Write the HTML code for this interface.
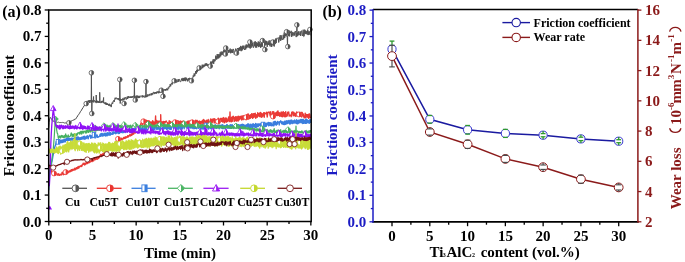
<!DOCTYPE html>
<html><head><meta charset="utf-8"><style>
html,body{margin:0;padding:0;background:#fff;width:685px;height:262px;overflow:hidden}
svg{display:block;filter:blur(0.45px)}
text{font-family:"Liberation Serif",serif}
</style></head><body><svg width="685" height="262" viewBox="0 0 685 262" font-family='"Liberation Serif", serif'><rect width="685" height="262" fill="#fff"/><g><path d="M48.70,128.3 L49.20,122.7 L49.70,118.3 L50.20,117.3 L50.70,117.7 L51.20,119.0 L51.70,119.3 L52.20,120.7 L52.70,121.0 L53.20,121.1 L53.70,121.4 L54.20,120.9 L54.70,121.7 L55.20,121.2 L55.70,121.3 L56.20,121.9 L56.70,122.1 L57.20,122.2 L57.70,122.5 L58.20,122.4 L58.70,122.1 L59.20,122.5 L59.70,122.6 L60.20,122.0 L60.70,122.7 L61.20,122.8 L61.70,122.3 L62.20,122.8 L62.70,122.4 L63.20,122.8 L63.70,122.3 L64.20,123.0 L64.70,123.1 L65.20,122.7 L65.70,123.1 L66.20,122.7 L66.70,123.3 L67.20,122.8 L67.70,122.3 L68.20,122.8 L68.70,122.0 L69.20,122.4 L69.70,121.6 L70.20,121.8 L70.70,121.3 L71.20,121.6 L71.70,120.6 L72.20,120.4 L72.70,120.9 L73.20,120.0 L73.70,119.8 L74.20,120.0 L74.70,119.2 L75.20,119.4 L75.70,118.6 L76.20,118.5 L76.70,117.2 L77.20,117.0 L77.70,115.7 L78.20,114.9 L78.70,114.7 L79.20,113.5 L79.70,113.3 L80.20,111.9 L80.70,111.2 L81.20,110.9 L81.70,109.4 L82.20,109.3 L82.70,107.9 L83.20,107.6 L83.70,106.2 L84.20,106.1 L84.70,105.0 L85.20,105.0 L85.70,104.0 L86.20,104.3 L86.70,101.7 L87.20,101.6 L87.70,102.6 L88.20,100.5 L88.70,102.0 L89.20,100.1 L89.70,103.0 L90.20,100.1 L90.70,101.0 L91.20,102.8 L91.40,72.8 L91.65,101.5 L91.70,100.4 L91.80,113.5 L92.05,101.5 L92.20,100.3 L92.70,102.1 L93.20,101.0 L93.60,96.5 L93.70,102.4 L93.85,101.7 L94.20,100.7 L94.70,100.2 L95.20,102.2 L95.70,101.0 L96.20,103.1 L96.20,95.0 L96.45,101.8 L96.70,100.6 L97.20,102.6 L97.70,100.8 L98.20,102.8 L98.70,101.2 L99.20,103.0 L99.70,101.1 L99.70,92.3 L99.95,101.8 L100.20,102.5 L100.70,103.1 L101.20,101.0 L101.70,102.8 L102.20,100.8 L102.70,102.4 L103.20,101.3 L103.60,97.5 L103.70,102.9 L103.85,102.1 L104.20,103.8 L104.70,103.6 L105.20,102.3 L105.70,104.5 L106.20,102.7 L106.70,105.0 L107.20,103.2 L107.70,105.0 L108.20,104.0 L108.70,105.7 L109.20,103.7 L109.70,105.9 L110.20,106.1 L110.70,104.6 L111.20,107.1 L111.70,104.1 L112.20,102.6 L112.70,103.8 L113.20,101.0 L113.70,100.4 L114.20,102.0 L114.70,99.2 L115.20,97.7 L115.70,99.3 L116.20,97.7 L116.70,98.0 L117.20,99.2 L117.70,98.3 L118.20,99.9 L118.70,98.2 L119.20,100.5 L119.70,100.5 L119.80,79.5 L120.05,99.3 L120.20,98.7 L120.20,103.5 L120.45,99.4 L120.70,100.9 L121.20,100.4 L121.70,99.1 L122.20,100.6 L122.70,98.4 L123.20,98.5 L123.70,100.4 L124.20,97.6 L124.70,99.5 L125.20,97.6 L125.70,97.1 L126.20,99.5 L126.70,99.2 L127.20,96.7 L127.70,99.0 L128.20,96.0 L128.70,97.9 L129.20,96.7 L129.70,97.8 L130.20,96.4 L130.70,98.0 L131.20,96.5 L131.70,98.0 L132.20,96.1 L132.70,97.6 L133.20,96.1 L133.70,95.8 L134.20,98.1 L134.40,80.3 L134.65,97.0 L134.70,98.4 L135.20,96.4 L135.70,97.8 L136.20,95.6 L136.70,98.3 L137.20,95.5 L137.70,97.7 L138.20,95.9 L138.70,98.1 L139.20,95.8 L139.70,97.9 L140.20,95.9 L140.70,96.1 L141.20,95.8 L141.70,95.9 L142.20,97.4 L142.70,95.3 L143.20,97.2 L143.70,95.8 L144.20,97.3 L144.70,97.3 L145.20,95.3 L145.70,97.4 L146.00,81.6 L146.20,94.8 L146.25,96.0 L146.70,97.1 L147.20,94.5 L147.70,96.6 L148.20,94.4 L148.70,95.7 L149.20,95.9 L149.70,93.9 L150.20,95.1 L150.70,95.2 L151.20,93.2 L151.70,95.3 L152.20,93.2 L152.70,94.6 L153.20,92.3 L153.70,92.0 L154.20,94.1 L154.70,92.3 L155.20,93.5 L155.70,92.0 L156.20,93.8 L156.70,91.7 L157.20,92.7 L157.70,91.4 L158.20,93.3 L158.70,91.3 L159.20,93.1 L159.70,90.4 L160.20,90.6 L160.70,92.6 L161.20,90.5 L161.70,92.1 L162.20,89.8 L162.70,89.7 L163.00,96.3 L163.20,90.0 L163.25,90.6 L163.70,91.0 L164.20,89.1 L164.70,89.7 L165.20,90.8 L165.70,89.0 L166.20,90.4 L166.70,88.5 L167.20,88.6 L167.70,90.3 L168.20,87.5 L168.70,88.5 L169.20,86.4 L169.70,87.1 L170.20,84.1 L170.70,86.3 L171.20,83.8 L171.70,82.8 L172.20,84.5 L172.70,81.8 L173.20,82.5 L173.70,80.5 L174.20,82.3 L174.70,82.7 L175.20,80.6 L175.70,80.4 L176.20,82.5 L176.70,79.8 L177.20,82.2 L177.70,81.3 L178.20,79.0 L178.70,81.8 L179.20,79.6 L179.70,79.3 L180.20,81.7 L180.70,81.8 L181.20,80.9 L181.70,78.5 L182.20,78.1 L182.70,81.1 L183.20,78.0 L183.70,81.1 L184.20,77.8 L184.70,80.7 L185.20,77.5 L185.70,81.2 L186.20,77.7 L186.70,80.1 L187.20,78.7 L187.70,81.4 L188.20,80.6 L188.70,78.1 L189.20,80.4 L189.70,77.9 L190.20,78.3 L190.70,78.6 L191.20,81.6 L191.70,80.3 L192.20,77.8 L192.70,78.9 L193.20,75.5 L193.70,76.8 L194.20,73.4 L194.70,76.2 L195.20,74.5 L195.70,71.1 L196.20,73.8 L196.70,69.8 L197.20,72.2 L197.70,69.0 L198.20,70.8 L198.70,67.6 L199.20,68.9 L199.70,66.7 L200.20,69.1 L200.70,68.4 L201.20,68.1 L201.70,68.5 L202.20,64.7 L202.70,68.2 L203.20,64.8 L203.70,67.2 L204.20,64.7 L204.70,66.5 L205.20,63.6 L205.70,65.9 L206.20,63.2 L206.70,65.7 L207.20,63.8 L207.70,66.2 L208.20,66.1 L208.70,64.1 L209.20,65.6 L209.70,66.4 L210.20,67.1 L210.70,61.6 L211.20,65.4 L211.70,61.6 L212.20,63.5 L212.70,60.8 L213.20,59.3 L213.70,63.9 L214.20,59.2 L214.70,61.5 L215.20,61.1 L215.70,55.7 L216.20,56.0 L216.70,59.6 L217.20,54.1 L217.70,58.6 L218.20,54.2 L218.70,58.4 L219.20,54.3 L219.70,57.5 L220.20,52.3 L220.70,56.4 L221.20,51.5 L221.70,55.1 L222.20,54.6 L222.70,51.6 L223.20,55.1 L223.70,49.8 L224.20,50.2 L224.70,52.3 L225.20,47.7 L225.40,54.0 L225.65,50.6 L225.70,49.0 L226.20,52.7 L226.70,52.2 L227.20,49.2 L227.70,49.5 L228.20,52.9 L228.70,49.9 L229.20,52.6 L229.70,49.8 L230.20,48.6 L230.70,53.3 L231.20,49.4 L231.70,52.7 L232.20,49.6 L232.70,53.0 L233.20,48.9 L233.70,50.5 L234.20,54.3 L234.70,53.1 L235.20,50.3 L235.70,48.6 L236.20,54.1 L236.70,49.4 L237.20,48.9 L237.70,48.0 L238.20,52.6 L238.70,47.9 L239.20,50.7 L239.70,47.3 L240.20,50.5 L240.70,45.9 L241.20,51.2 L241.70,46.6 L242.20,50.4 L242.70,45.7 L243.20,49.2 L243.70,45.7 L244.20,48.6 L244.70,50.0 L245.20,45.6 L245.70,49.5 L246.20,44.5 L246.70,48.2 L247.20,44.6 L247.70,47.2 L248.20,47.3 L248.70,43.0 L249.20,47.9 L249.70,44.1 L250.20,48.6 L250.70,43.5 L251.20,47.7 L251.70,41.7 L252.20,46.3 L252.70,42.9 L253.20,47.7 L253.70,47.4 L254.20,41.9 L254.70,46.2 L255.20,41.2 L255.70,47.6 L256.20,42.1 L256.70,47.6 L257.20,43.1 L257.70,46.1 L258.20,41.5 L258.70,47.1 L259.20,41.7 L259.70,46.5 L260.20,43.7 L260.70,47.8 L261.20,41.2 L261.70,46.9 L262.20,42.1 L262.70,46.7 L263.20,46.7 L263.70,47.3 L264.20,47.4 L264.50,50.0 L264.70,41.7 L264.75,43.9 L265.20,45.4 L265.70,40.6 L266.20,44.7 L266.70,41.1 L267.20,46.9 L267.70,42.3 L268.20,41.4 L268.70,45.0 L269.20,40.3 L269.70,45.8 L270.20,46.5 L270.70,42.8 L271.20,40.3 L271.70,47.0 L272.20,42.2 L272.70,42.3 L273.20,45.7 L273.70,40.0 L274.20,46.5 L274.70,39.9 L275.20,44.1 L275.70,38.5 L276.20,43.1 L276.70,38.3 L277.20,38.7 L277.70,38.1 L278.20,37.5 L278.70,42.5 L279.20,40.7 L279.70,36.6 L280.20,35.2 L280.70,40.9 L281.20,35.3 L281.70,39.6 L282.20,38.9 L282.70,39.8 L283.20,34.8 L283.70,39.3 L284.20,32.5 L284.70,38.0 L285.20,33.5 L285.70,36.2 L286.20,32.3 L286.70,35.9 L287.20,37.3 L287.50,46.6 L287.70,35.6 L287.75,34.0 L288.20,31.2 L288.70,36.1 L289.20,30.5 L289.70,36.4 L290.20,31.8 L290.70,32.9 L291.20,30.8 L291.70,37.0 L292.20,31.9 L292.70,35.6 L293.20,35.9 L293.70,32.6 L294.20,32.1 L294.70,35.6 L295.20,31.0 L295.70,32.2 L296.20,37.1 L296.70,32.4 L296.90,24.9 L297.15,33.7 L297.20,36.3 L297.70,32.4 L298.20,35.4 L298.70,31.3 L299.20,35.0 L299.70,34.8 L300.20,31.4 L300.70,36.0 L301.20,31.1 L301.70,30.7 L302.20,35.0 L302.70,36.0 L303.20,29.7 L303.70,36.6 L304.20,36.2 L304.70,29.6 L305.20,34.1 L305.70,30.5 L306.20,34.0 L306.70,31.2 L307.20,34.6 L307.70,29.7 L308.20,35.1 L308.70,30.5 L309.20,34.7 L309.70,29.1 L310.20,34.7 L310.70,35.1" fill="none" stroke="#505050" stroke-width="1.0" stroke-linejoin="round"/><circle cx="68.9" cy="122.8" r="2.3" fill="#fff" stroke="#505050" stroke-width="0.8"/><path d="M68.9,120.5 A2.3,2.3 0 0 1 68.9,125.1 Z" fill="#505050"/><circle cx="86.2" cy="103.6" r="2.3" fill="#fff" stroke="#505050" stroke-width="0.8"/><path d="M86.2,101.3 A2.3,2.3 0 0 1 86.2,105.9 Z" fill="#505050"/><circle cx="91.4" cy="72.8" r="2.3" fill="#fff" stroke="#505050" stroke-width="0.8"/><path d="M91.4,70.5 A2.3,2.3 0 0 1 91.4,75.1 Z" fill="#505050"/><circle cx="91.8" cy="113.5" r="2.3" fill="#fff" stroke="#505050" stroke-width="0.8"/><path d="M91.8,111.2 A2.3,2.3 0 0 1 91.8,115.8 Z" fill="#505050"/><circle cx="119.8" cy="79.5" r="2.3" fill="#fff" stroke="#505050" stroke-width="0.8"/><path d="M119.8,77.2 A2.3,2.3 0 0 1 119.8,81.8 Z" fill="#505050"/><circle cx="124.1" cy="103.5" r="2.3" fill="#fff" stroke="#505050" stroke-width="0.8"/><path d="M124.1,101.2 A2.3,2.3 0 0 1 124.1,105.8 Z" fill="#505050"/><circle cx="134.4" cy="80.3" r="2.3" fill="#fff" stroke="#505050" stroke-width="0.8"/><path d="M134.4,78.0 A2.3,2.3 0 0 1 134.4,82.6 Z" fill="#505050"/><circle cx="135.3" cy="100.0" r="2.3" fill="#fff" stroke="#505050" stroke-width="0.8"/><path d="M135.3,97.7 A2.3,2.3 0 0 1 135.3,102.3 Z" fill="#505050"/><circle cx="146.0" cy="81.6" r="2.3" fill="#fff" stroke="#505050" stroke-width="0.8"/><path d="M146.0,79.3 A2.3,2.3 0 0 1 146.0,83.9 Z" fill="#505050"/><circle cx="161.3" cy="90.2" r="2.3" fill="#fff" stroke="#505050" stroke-width="0.8"/><path d="M161.3,87.9 A2.3,2.3 0 0 1 161.3,92.5 Z" fill="#505050"/><circle cx="163.0" cy="96.3" r="2.3" fill="#fff" stroke="#505050" stroke-width="0.8"/><path d="M163.0,94.0 A2.3,2.3 0 0 1 163.0,98.6 Z" fill="#505050"/><circle cx="174.2" cy="80.8" r="2.3" fill="#fff" stroke="#505050" stroke-width="0.8"/><path d="M174.2,78.5 A2.3,2.3 0 0 1 174.2,83.1 Z" fill="#505050"/><circle cx="191.4" cy="80.8" r="2.3" fill="#fff" stroke="#505050" stroke-width="0.8"/><path d="M191.4,78.5 A2.3,2.3 0 0 1 191.4,83.1 Z" fill="#505050"/><circle cx="199.2" cy="67.9" r="2.3" fill="#fff" stroke="#505050" stroke-width="0.8"/><path d="M199.2,65.6 A2.3,2.3 0 0 1 199.2,70.2 Z" fill="#505050"/><circle cx="210.3" cy="66.1" r="2.3" fill="#fff" stroke="#505050" stroke-width="0.8"/><path d="M210.3,63.8 A2.3,2.3 0 0 1 210.3,68.4 Z" fill="#505050"/><circle cx="225.8" cy="48.0" r="2.3" fill="#fff" stroke="#505050" stroke-width="0.8"/><path d="M225.8,45.7 A2.3,2.3 0 0 1 225.8,50.3 Z" fill="#505050"/><circle cx="225.4" cy="54.0" r="2.3" fill="#fff" stroke="#505050" stroke-width="0.8"/><path d="M225.4,51.7 A2.3,2.3 0 0 1 225.4,56.3 Z" fill="#505050"/><circle cx="236.5" cy="53.1" r="2.3" fill="#fff" stroke="#505050" stroke-width="0.8"/><path d="M236.5,50.8 A2.3,2.3 0 0 1 236.5,55.4 Z" fill="#505050"/><circle cx="249.9" cy="42.0" r="2.3" fill="#fff" stroke="#505050" stroke-width="0.8"/><path d="M249.9,39.7 A2.3,2.3 0 0 1 249.9,44.3 Z" fill="#505050"/><circle cx="262.4" cy="40.6" r="2.3" fill="#fff" stroke="#505050" stroke-width="0.8"/><path d="M262.4,38.3 A2.3,2.3 0 0 1 262.4,42.9 Z" fill="#505050"/><circle cx="264.9" cy="49.6" r="2.3" fill="#fff" stroke="#505050" stroke-width="0.8"/><path d="M264.9,47.3 A2.3,2.3 0 0 1 264.9,51.9 Z" fill="#505050"/><circle cx="272.9" cy="42.0" r="2.3" fill="#fff" stroke="#505050" stroke-width="0.8"/><path d="M272.9,39.7 A2.3,2.3 0 0 1 272.9,44.3 Z" fill="#505050"/><circle cx="286.6" cy="31.7" r="2.3" fill="#fff" stroke="#505050" stroke-width="0.8"/><path d="M286.6,29.4 A2.3,2.3 0 0 1 286.6,34.0 Z" fill="#505050"/><circle cx="287.8" cy="46.6" r="2.3" fill="#fff" stroke="#505050" stroke-width="0.8"/><path d="M287.8,44.3 A2.3,2.3 0 0 1 287.8,48.9 Z" fill="#505050"/><circle cx="296.9" cy="24.9" r="2.3" fill="#fff" stroke="#505050" stroke-width="0.8"/><path d="M296.9,22.6 A2.3,2.3 0 0 1 296.9,27.2 Z" fill="#505050"/><circle cx="310.0" cy="29.5" r="2.3" fill="#fff" stroke="#505050" stroke-width="0.8"/><path d="M310.0,27.2 A2.3,2.3 0 0 1 310.0,31.8 Z" fill="#505050"/><path d="M48.70,166.2 L49.20,166.2 L49.70,168.5 L50.20,168.8 L50.70,171.2 L51.20,170.3 L51.70,173.1 L52.20,172.5 L52.70,174.0 L53.20,172.9 L53.70,174.6 L54.20,174.3 L54.70,174.9 L55.20,173.8 L55.70,174.7 L56.20,174.2 L56.70,173.6 L57.20,175.1 L57.70,174.2 L58.20,175.1 L58.70,173.7 L59.20,175.2 L59.70,175.3 L60.20,174.9 L60.70,174.2 L61.20,174.9 L61.70,173.7 L62.20,172.2 L62.70,173.5 L63.20,174.8 L63.70,173.3 L64.20,174.3 L64.70,172.9 L65.20,174.2 L65.70,173.2 L66.20,173.8 L66.70,173.7 L67.20,172.0 L67.70,172.0 L68.20,172.6 L68.70,171.5 L69.20,170.9 L69.70,171.9 L70.20,170.6 L70.70,171.5 L71.20,169.7 L71.70,170.9 L72.20,169.5 L72.70,170.5 L73.20,169.3 L73.70,169.9 L74.20,170.1 L74.70,168.3 L75.20,169.8 L75.70,169.4 L76.20,167.7 L76.70,168.8 L77.20,167.4 L77.70,168.6 L78.20,166.4 L78.70,168.0 L79.20,167.3 L79.70,166.3 L80.20,166.0 L80.70,166.5 L81.20,165.5 L81.70,166.5 L82.20,165.0 L82.70,164.8 L83.20,163.1 L83.70,164.3 L84.20,163.6 L84.70,165.0 L85.20,162.9 L85.70,164.2 L86.20,163.7 L86.70,162.3 L87.20,163.4 L87.70,163.6 L88.20,161.8 L88.70,161.4 L89.20,162.7 L89.70,161.3 L90.20,162.1 L90.70,160.8 L91.20,161.5 L91.70,160.2 L92.20,161.6 L92.70,160.1 L93.20,159.7 L93.70,160.9 L94.20,159.4 L94.70,158.5 L95.20,159.7 L95.70,159.4 L96.20,158.2 L96.70,157.6 L97.20,159.2 L97.70,159.0 L98.20,157.4 L98.70,158.3 L99.20,156.3 L99.70,157.0 L100.20,155.5 L100.70,154.4 L101.20,155.1 L101.70,155.8 L102.20,154.1 L102.70,154.9 L103.20,153.1 L103.70,154.6 L104.20,154.1 L104.70,152.0 L105.20,152.1 L105.70,152.8 L106.20,151.1 L106.70,152.3 L107.20,150.1 L107.70,151.0 L108.20,149.4 L108.70,150.1 L109.20,148.4 L109.70,149.3 L110.20,147.7 L110.70,146.6 L111.20,147.6 L111.70,145.6 L112.20,146.5 L112.70,145.1 L113.20,145.6 L113.70,143.8 L114.20,144.6 L114.70,143.3 L115.20,143.6 L115.70,142.0 L116.20,142.9 L116.70,139.7 L117.20,142.0 L117.70,140.3 L118.20,139.5 L118.70,141.0 L119.20,139.1 L119.70,140.5 L120.20,140.1 L120.70,138.7 L121.20,139.9 L121.70,138.1 L122.20,139.4 L122.70,139.1 L123.20,138.8 L123.70,137.5 L124.20,138.4 L124.70,137.2 L125.20,138.4 L125.70,136.8 L126.20,137.8 L126.70,136.7 L127.20,137.3 L127.70,135.7 L128.20,137.1 L128.70,135.7 L129.20,136.1 L129.70,134.7 L130.20,134.9 L130.70,135.9 L131.20,134.1 L131.70,135.3 L132.20,133.5 L132.70,134.6 L133.20,132.9 L133.70,134.1 L134.20,132.3 L134.70,131.9 L135.20,133.0 L135.70,131.2 L136.20,130.2 L136.70,129.8 L137.20,130.5 L137.70,128.2 L138.20,129.4 L138.70,126.9 L139.20,128.2 L139.70,126.2 L140.20,126.8 L140.70,124.0 L141.20,123.0 L141.70,121.5 L142.20,124.4 L142.70,124.6 L143.20,123.4 L143.70,121.7 L144.20,120.4 L144.70,124.5 L145.20,120.4 L145.70,124.1 L146.20,120.3 L146.70,124.5 L147.20,120.6 L147.70,125.2 L148.20,120.7 L148.70,125.0 L149.20,120.9 L149.70,124.8 L150.20,122.0 L150.70,124.5 L151.20,122.0 L151.70,125.3 L152.20,124.5 L152.70,120.6 L153.20,125.5 L153.70,122.0 L154.20,125.5 L154.70,122.0 L155.20,124.2 L155.60,116.0 L155.70,122.0 L155.85,123.1 L156.20,120.2 L156.70,120.7 L157.20,123.9 L157.70,121.3 L158.20,125.1 L158.70,121.2 L159.20,121.6 L159.70,121.2 L160.20,125.1 L160.70,121.1 L160.70,114.7 L160.95,123.2 L161.20,124.9 L161.70,125.3 L162.20,121.8 L162.70,122.1 L163.20,125.3 L163.70,121.4 L164.20,124.3 L164.70,121.7 L165.20,124.6 L165.70,121.5 L166.20,121.0 L166.70,125.0 L167.20,124.2 L167.70,125.8 L168.20,124.6 L168.70,125.1 L169.20,120.8 L169.70,125.8 L170.20,121.4 L170.70,124.6 L171.20,122.1 L171.70,122.3 L172.20,124.4 L172.70,121.7 L173.20,125.1 L173.70,125.5 L174.20,122.6 L174.70,125.4 L175.20,121.5 L175.70,122.2 L176.20,125.1 L176.70,125.9 L177.20,120.8 L177.70,121.4 L178.20,125.4 L178.70,121.0 L179.20,121.8 L179.70,126.0 L180.20,121.4 L180.70,121.1 L181.20,125.9 L181.70,122.1 L182.20,121.6 L182.70,122.4 L183.20,121.0 L183.70,125.4 L184.20,122.4 L184.70,125.2 L185.20,122.2 L185.70,124.6 L186.20,122.2 L186.70,125.0 L187.20,121.5 L187.70,125.1 L188.20,121.0 L188.70,124.4 L189.20,121.3 L189.70,121.2 L190.20,120.8 L190.70,124.5 L191.20,120.7 L191.70,123.9 L192.20,120.7 L192.70,120.5 L193.20,124.9 L193.70,121.9 L194.20,125.5 L194.70,121.0 L195.20,124.8 L195.70,120.2 L196.20,123.6 L196.70,120.7 L197.20,120.4 L197.70,125.2 L198.20,121.7 L198.70,123.9 L199.20,120.9 L199.70,123.7 L200.20,121.6 L200.70,124.2 L201.20,121.3 L201.70,123.1 L202.20,123.1 L202.70,120.2 L203.20,124.1 L203.70,119.5 L204.20,120.3 L204.70,121.2 L205.20,124.2 L205.70,121.0 L206.20,122.8 L206.70,120.3 L207.20,123.9 L207.70,123.7 L208.20,119.5 L208.70,124.3 L209.20,122.8 L209.70,122.5 L210.20,120.5 L210.70,119.0 L211.20,122.6 L211.70,119.4 L212.20,122.6 L212.70,119.4 L213.20,118.8 L213.70,119.8 L214.20,122.9 L214.70,118.6 L215.20,122.7 L215.70,120.0 L216.20,122.6 L216.70,119.8 L217.20,122.9 L217.70,119.8 L218.20,118.2 L218.70,119.0 L219.20,122.5 L219.70,121.6 L220.20,118.6 L220.70,118.4 L221.20,118.7 L221.70,121.3 L222.20,118.1 L222.70,122.0 L223.20,118.4 L223.70,117.6 L224.20,122.8 L224.70,122.1 L225.20,118.5 L225.70,118.0 L226.20,122.2 L226.70,118.2 L227.20,121.0 L227.70,121.6 L228.20,120.9 L228.70,116.9 L229.20,116.9 L229.70,121.6 L230.00,112.0 L230.20,118.1 L230.25,119.5 L230.70,118.1 L231.20,121.8 L231.70,117.3 L232.20,121.3 L232.70,116.8 L233.20,116.3 L233.70,117.1 L234.20,121.4 L234.70,117.4 L235.20,120.7 L235.70,116.6 L236.20,117.5 L236.70,121.1 L237.20,116.5 L237.70,120.3 L238.20,120.9 L238.70,116.2 L239.20,119.8 L239.70,118.9 L240.20,116.5 L240.70,118.9 L241.20,116.1 L241.70,120.0 L242.20,115.9 L242.70,116.3 L243.20,119.6 L243.70,115.8 L244.20,116.2 L244.70,118.5 L245.20,115.8 L245.70,115.8 L246.20,119.6 L246.70,114.7 L247.20,118.7 L247.70,114.3 L248.20,113.9 L248.70,119.1 L249.20,118.0 L249.70,115.1 L250.20,118.4 L250.70,114.8 L251.20,117.5 L251.70,113.6 L252.20,114.4 L252.70,118.4 L253.20,113.7 L253.70,117.3 L254.20,113.8 L254.70,116.8 L255.20,113.1 L255.70,118.3 L256.20,114.6 L256.70,116.7 L257.20,117.3 L257.70,112.8 L258.20,114.3 L258.70,116.1 L259.20,113.5 L259.70,116.6 L260.20,112.5 L260.70,112.6 L261.20,117.3 L261.70,113.5 L262.20,116.9 L262.70,113.9 L263.20,115.7 L263.70,112.8 L264.20,117.2 L264.70,112.7 L265.20,113.2 L265.70,113.6 L266.20,113.8 L266.70,112.2 L267.20,117.0 L267.70,113.6 L268.20,112.2 L268.70,112.1 L269.20,112.0 L269.70,113.1 L270.20,116.0 L270.70,111.8 L271.20,117.0 L271.70,116.2 L272.20,115.4 L272.70,111.7 L273.20,116.2 L273.70,111.8 L274.20,115.5 L274.70,116.1 L275.20,112.9 L275.70,115.9 L276.20,112.7 L276.70,115.3 L277.20,111.5 L277.70,115.6 L278.00,111.0 L278.20,112.8 L278.25,114.1 L278.70,115.2 L279.20,112.7 L279.70,116.2 L280.20,113.1 L280.70,116.0 L281.20,112.0 L281.70,116.5 L282.20,112.5 L282.70,116.7 L283.20,111.6 L283.70,112.7 L284.20,116.5 L284.70,112.7 L285.20,116.8 L285.70,111.6 L286.20,116.5 L286.70,115.7 L287.20,116.0 L287.70,112.3 L288.20,113.1 L288.70,112.0 L289.20,116.1 L289.70,115.2 L290.20,115.2 L290.70,115.3 L291.20,116.7 L291.70,112.3 L292.20,112.3 L292.70,111.9 L293.20,115.9 L293.70,112.3 L294.20,115.2 L294.70,113.1 L295.20,116.2 L295.70,113.5 L296.20,116.1 L296.70,112.0 L297.20,112.5 L297.70,115.6 L298.20,112.8 L298.70,115.7 L299.20,113.3 L299.70,113.1 L300.20,116.2 L300.70,113.4 L301.20,112.3 L301.70,117.0 L302.20,112.4 L302.70,115.8 L303.20,113.9 L303.70,117.1 L304.20,116.2 L304.70,117.9 L305.20,113.3 L305.70,117.9 L306.20,114.4 L306.70,116.9 L307.20,114.6 L307.70,117.2 L308.20,114.5 L308.70,118.3 L309.20,113.9 L309.70,114.2 L310.20,117.3 L310.70,118.1" fill="none" stroke="#ea3a36" stroke-width="1.4" stroke-linejoin="round"/><circle cx="54.0" cy="173.4" r="2.5" fill="#fff" stroke="#ea3a36" stroke-width="0.8"/><path d="M54.0,170.9 A2.5,2.5 0 0 1 54.0,175.9 Z" fill="#ea3a36"/><circle cx="65.6" cy="172.1" r="2.5" fill="#fff" stroke="#ea3a36" stroke-width="0.8"/><path d="M65.6,169.6 A2.5,2.5 0 0 1 65.6,174.6 Z" fill="#ea3a36"/><circle cx="118.0" cy="138.9" r="2.5" fill="#fff" stroke="#ea3a36" stroke-width="0.8"/><path d="M118.0,136.4 A2.5,2.5 0 0 1 118.0,141.4 Z" fill="#ea3a36"/><circle cx="143.4" cy="121.3" r="2.5" fill="#fff" stroke="#ea3a36" stroke-width="0.8"/><path d="M143.4,118.8 A2.5,2.5 0 0 1 143.4,123.8 Z" fill="#ea3a36"/><circle cx="166.8" cy="124.6" r="2.5" fill="#fff" stroke="#ea3a36" stroke-width="0.8"/><path d="M166.8,122.1 A2.5,2.5 0 0 1 166.8,127.1 Z" fill="#ea3a36"/><circle cx="175.0" cy="122.2" r="2.5" fill="#fff" stroke="#ea3a36" stroke-width="0.8"/><path d="M175.0,119.7 A2.5,2.5 0 0 1 175.0,124.7 Z" fill="#ea3a36"/><circle cx="192.0" cy="122.3" r="2.5" fill="#fff" stroke="#ea3a36" stroke-width="0.8"/><path d="M192.0,119.8 A2.5,2.5 0 0 1 192.0,124.8 Z" fill="#ea3a36"/><circle cx="218.0" cy="121.6" r="2.5" fill="#fff" stroke="#ea3a36" stroke-width="0.8"/><path d="M218.0,119.1 A2.5,2.5 0 0 1 218.0,124.1 Z" fill="#ea3a36"/><circle cx="246.0" cy="117.3" r="2.5" fill="#fff" stroke="#ea3a36" stroke-width="0.8"/><path d="M246.0,114.8 A2.5,2.5 0 0 1 246.0,119.8 Z" fill="#ea3a36"/><circle cx="273.0" cy="116.5" r="2.5" fill="#fff" stroke="#ea3a36" stroke-width="0.8"/><path d="M273.0,114.0 A2.5,2.5 0 0 1 273.0,119.0 Z" fill="#ea3a36"/><circle cx="299.0" cy="114.4" r="2.5" fill="#fff" stroke="#ea3a36" stroke-width="0.8"/><path d="M299.0,111.9 A2.5,2.5 0 0 1 299.0,116.9 Z" fill="#ea3a36"/><path d="M48.70,190.1 L49.20,180.4 L49.70,173.7 L50.20,171.3 L50.70,168.1 L51.20,165.6 L51.70,162.5 L52.20,160.3 L52.70,157.4 L53.20,154.7 L53.70,152.6 L54.20,149.7 L54.70,147.4 L55.20,145.8 L55.70,144.9 L56.20,141.5 L56.70,143.2 L57.20,142.5 L57.70,140.0 L58.20,142.1 L58.70,139.8 L59.20,142.3 L59.70,140.9 L60.20,142.9 L60.70,140.3 L61.20,142.6 L61.70,140.1 L62.20,142.6 L62.70,140.0 L63.20,142.2 L63.70,139.7 L64.20,141.9 L64.70,139.3 L65.20,141.9 L65.70,140.7 L66.20,138.5 L66.70,140.3 L67.20,137.9 L67.70,140.5 L68.20,137.8 L68.70,140.4 L69.20,138.1 L69.70,140.2 L70.20,138.7 L70.70,141.1 L71.20,138.3 L71.70,138.2 L72.20,139.7 L72.70,138.3 L73.20,140.7 L73.70,138.2 L74.20,140.7 L74.70,137.4 L75.20,140.1 L75.70,137.1 L76.20,140.0 L76.70,139.8 L77.20,137.0 L77.70,140.2 L78.20,137.0 L78.70,139.5 L79.20,139.7 L79.70,137.7 L80.20,139.3 L80.70,137.7 L81.20,139.4 L81.70,137.2 L82.20,139.0 L82.70,137.0 L83.20,138.8 L83.70,136.4 L84.20,139.2 L84.70,136.3 L85.20,138.6 L85.70,138.9 L86.20,136.8 L86.70,138.2 L87.20,135.6 L87.70,136.6 L88.20,138.8 L88.70,136.4 L89.20,135.9 L89.70,135.2 L90.20,135.1 L90.70,138.2 L91.20,135.9 L91.70,137.8 L92.20,135.4 L92.70,137.6 L93.20,135.4 L93.70,135.4 L94.20,137.6 L94.70,134.3 L95.20,137.8 L95.70,137.7 L96.20,136.9 L96.70,134.9 L97.20,135.2 L97.70,137.4 L98.20,137.1 L98.70,136.7 L99.20,136.6 L99.70,136.0 L100.20,134.1 L100.70,136.3 L101.20,133.4 L101.70,135.9 L102.20,133.4 L102.70,136.0 L103.20,134.2 L103.70,135.7 L104.20,133.1 L104.70,135.3 L105.20,135.9 L105.70,133.2 L106.20,135.8 L106.70,133.3 L107.20,135.7 L107.70,132.7 L108.20,135.0 L108.70,132.9 L109.20,135.0 L109.70,132.7 L110.20,135.2 L110.70,132.7 L111.20,134.1 L111.70,134.2 L112.20,134.4 L112.70,131.9 L113.20,134.1 L113.70,131.8 L114.20,132.0 L114.70,133.2 L115.20,131.9 L115.70,133.7 L116.20,133.2 L116.70,131.1 L117.20,133.1 L117.70,130.4 L118.20,132.9 L118.70,133.6 L119.20,131.1 L119.70,133.2 L120.20,130.7 L120.70,132.1 L121.20,132.2 L121.70,130.0 L122.20,132.7 L122.70,129.6 L123.20,131.7 L123.70,132.6 L124.20,129.6 L124.70,132.1 L125.20,129.8 L125.70,131.4 L126.20,132.0 L126.70,131.2 L127.20,129.9 L127.70,131.3 L128.20,131.1 L128.70,129.2 L129.20,130.9 L129.70,128.4 L130.20,131.8 L130.70,129.2 L131.20,131.8 L131.70,128.6 L132.20,131.0 L132.70,129.2 L133.20,130.6 L133.70,128.5 L134.20,131.3 L134.70,130.6 L135.20,127.7 L135.70,130.4 L136.20,130.6 L136.70,130.7 L137.20,129.9 L137.70,130.3 L138.20,128.1 L138.70,129.9 L139.20,127.2 L139.70,129.7 L140.20,128.0 L140.70,129.6 L141.20,128.2 L141.70,130.1 L142.20,127.1 L142.70,129.5 L143.20,129.5 L143.70,130.2 L144.20,127.1 L144.70,129.8 L145.20,129.7 L145.70,128.0 L146.20,127.5 L146.70,129.9 L147.20,130.3 L147.70,129.7 L148.20,129.5 L148.70,127.2 L149.20,130.3 L149.70,127.4 L150.20,129.4 L150.70,126.9 L151.20,129.4 L151.70,126.7 L152.20,129.5 L152.70,129.4 L153.20,127.3 L153.70,129.8 L154.20,127.2 L154.70,129.8 L155.20,127.2 L155.70,126.6 L156.20,126.8 L156.70,129.3 L157.20,129.4 L157.70,127.2 L158.20,128.8 L158.70,127.3 L159.20,129.6 L159.70,129.9 L160.20,127.3 L160.70,127.5 L161.20,129.8 L161.70,129.4 L162.20,128.8 L162.70,127.1 L163.20,127.5 L163.70,129.2 L164.20,126.4 L164.70,128.6 L165.20,128.5 L165.70,126.9 L166.20,127.0 L166.70,129.5 L167.20,126.3 L167.70,129.1 L168.20,126.3 L168.70,128.5 L169.20,126.5 L169.70,129.2 L170.20,126.9 L170.70,129.3 L171.20,129.3 L171.70,126.9 L172.20,126.2 L172.70,126.7 L173.20,126.3 L173.70,128.9 L174.20,126.5 L174.70,128.8 L175.20,126.3 L175.70,128.4 L176.20,126.4 L176.70,129.3 L177.20,128.7 L177.70,127.0 L178.20,129.3 L178.70,125.8 L179.20,128.1 L179.70,126.9 L180.20,129.3 L180.70,126.2 L181.20,128.5 L181.70,126.4 L182.20,129.0 L182.70,126.4 L183.20,126.5 L183.70,126.0 L184.20,128.7 L184.70,125.7 L185.20,126.1 L185.70,126.5 L186.20,125.7 L186.70,128.0 L187.20,128.3 L187.70,125.6 L188.20,128.6 L188.70,125.6 L189.20,127.9 L189.70,126.1 L190.20,128.1 L190.70,126.3 L191.20,127.9 L191.70,125.6 L192.20,128.1 L192.70,126.5 L193.20,128.7 L193.70,125.8 L194.20,126.3 L194.70,128.5 L195.20,126.2 L195.70,128.3 L196.20,126.3 L196.70,128.7 L197.20,125.7 L197.70,127.9 L198.20,125.5 L198.70,128.3 L199.20,126.3 L199.70,127.8 L200.20,126.3 L200.70,128.9 L201.20,129.1 L201.70,125.1 L202.20,128.7 L202.70,125.2 L203.20,129.1 L203.70,125.1 L204.20,128.7 L204.70,125.7 L205.20,128.6 L205.70,125.8 L206.20,126.2 L206.70,127.8 L207.20,125.9 L207.70,126.2 L208.20,128.4 L208.70,128.9 L209.20,124.8 L209.70,127.7 L210.20,125.1 L210.70,128.6 L211.20,125.5 L211.70,129.0 L212.20,125.1 L212.70,127.7 L213.20,125.8 L213.70,127.8 L214.20,125.6 L214.70,128.0 L215.20,124.7 L215.70,128.1 L216.20,125.8 L216.70,128.3 L217.20,127.6 L217.70,125.5 L218.20,127.5 L218.70,125.3 L219.20,128.7 L219.70,125.4 L220.20,125.3 L220.70,125.7 L221.20,128.0 L221.70,125.0 L222.20,128.5 L222.70,124.6 L223.20,128.6 L223.70,126.0 L224.20,128.0 L224.70,125.8 L225.20,128.9 L225.70,125.6 L226.20,127.8 L226.70,124.8 L227.20,124.7 L227.70,128.2 L228.20,127.9 L228.70,126.0 L229.20,128.4 L229.70,125.8 L230.20,124.7 L230.70,128.4 L231.20,125.0 L231.70,128.2 L232.20,124.7 L232.70,127.4 L233.20,125.7 L233.70,127.3 L234.20,128.1 L234.70,124.5 L235.20,125.5 L235.70,127.6 L236.20,125.8 L236.70,125.5 L237.20,127.5 L237.70,124.4 L238.20,127.5 L238.70,124.8 L239.20,128.4 L239.70,127.6 L240.20,124.6 L240.70,127.6 L241.20,128.6 L241.70,124.4 L242.20,128.3 L242.70,124.1 L243.20,127.2 L243.70,124.8 L244.20,127.0 L244.70,125.1 L245.20,128.2 L245.70,125.1 L246.20,127.1 L246.70,124.8 L247.20,127.0 L247.70,123.9 L248.20,126.7 L248.70,123.9 L249.20,127.9 L249.70,124.9 L250.20,127.7 L250.70,124.3 L251.20,127.1 L251.70,127.2 L252.20,124.3 L252.70,127.6 L253.20,123.8 L253.70,126.8 L254.20,124.4 L254.70,127.0 L255.20,127.3 L255.70,123.4 L256.20,127.4 L256.70,124.3 L257.20,126.7 L257.70,123.9 L258.20,126.6 L258.70,123.9 L259.20,125.7 L259.70,124.3 L260.20,123.5 L260.70,126.2 L261.20,124.1 L261.70,126.3 L262.20,123.3 L262.70,126.9 L263.20,124.0 L263.70,125.8 L264.20,123.4 L264.70,122.7 L265.20,126.5 L265.70,123.5 L266.20,126.4 L266.70,123.2 L267.20,125.1 L267.70,123.5 L268.20,122.4 L268.70,125.8 L269.20,122.7 L269.70,125.4 L270.20,122.7 L270.70,125.5 L271.20,122.9 L271.70,125.7 L272.20,125.6 L272.70,125.5 L273.20,122.1 L273.70,125.8 L274.20,121.4 L274.70,124.7 L275.20,121.4 L275.70,121.6 L276.20,125.2 L276.70,122.6 L277.20,124.3 L277.70,121.4 L278.20,122.3 L278.70,122.1 L279.20,125.0 L279.70,121.8 L280.20,122.1 L280.70,120.8 L281.20,122.1 L281.70,123.7 L282.20,121.6 L282.70,124.2 L283.20,124.4 L283.70,121.9 L284.20,124.6 L284.70,121.1 L285.20,124.3 L285.70,121.2 L286.20,124.0 L286.70,120.8 L287.20,121.5 L287.70,123.5 L288.20,120.4 L288.70,123.1 L289.20,120.9 L289.70,124.0 L290.20,120.1 L290.70,123.7 L291.20,121.3 L291.70,120.1 L292.20,123.5 L292.70,121.0 L293.20,123.0 L293.70,120.7 L294.20,123.0 L294.70,120.0 L295.20,122.9 L295.70,121.0 L296.20,123.4 L296.70,119.8 L297.20,123.9 L297.70,120.8 L298.20,123.5 L298.70,120.3 L299.20,122.9 L299.70,122.6 L300.20,119.5 L300.70,120.0 L301.20,122.9 L301.70,119.4 L302.20,120.0 L302.70,123.5 L303.20,119.3 L303.70,123.3 L304.20,120.3 L304.70,122.7 L305.20,123.3 L305.70,119.5 L306.20,123.3 L306.70,119.3 L307.20,122.7 L307.70,120.2 L308.20,122.5 L308.70,120.8 L309.20,123.4 L309.70,120.1 L310.20,119.6 L310.70,123.0" fill="none" stroke="#3a7ede" stroke-width="1.4" stroke-linejoin="round"/><rect x="56.2" y="139.4" width="3.6" height="4.8" fill="#fff" stroke="#3a7ede" stroke-width="0.8"/><rect x="58.0" y="139.4" width="1.8" height="4.8" fill="#3a7ede"/><rect x="92.2" y="132.4" width="3.6" height="4.8" fill="#fff" stroke="#3a7ede" stroke-width="0.8"/><rect x="94.0" y="132.4" width="1.8" height="4.8" fill="#3a7ede"/><rect x="204.2" y="123.1" width="3.6" height="4.8" fill="#fff" stroke="#3a7ede" stroke-width="0.8"/><rect x="206.0" y="123.1" width="1.8" height="4.8" fill="#3a7ede"/><rect x="261.2" y="122.2" width="3.6" height="4.8" fill="#fff" stroke="#3a7ede" stroke-width="0.8"/><rect x="263.0" y="122.2" width="1.8" height="4.8" fill="#3a7ede"/><path d="M48.70,175.2 L49.20,172.7 L49.70,170.5 L50.20,168.7 L50.70,166.1 L51.20,163.8 L51.70,160.6 L52.20,157.1 L52.70,154.1 L53.20,149.5 L53.70,143.7 L54.20,137.2 L54.70,129.4 L55.20,119.7 L55.70,121.4 L56.20,124.9 L56.70,130.1 L57.20,133.1 L57.70,133.8 L58.20,137.8 L58.70,138.4 L59.20,136.4 L59.70,135.9 L60.20,137.7 L60.70,138.0 L61.20,135.4 L61.70,135.8 L62.20,137.2 L62.70,135.6 L63.20,137.7 L63.70,136.1 L64.20,137.7 L64.70,135.4 L65.20,137.2 L65.70,133.9 L66.20,137.1 L66.70,135.7 L67.20,137.0 L67.70,136.9 L68.20,134.9 L68.70,136.6 L69.20,136.5 L69.70,136.6 L70.20,136.3 L70.70,134.7 L71.20,132.9 L71.70,134.9 L72.20,136.6 L72.70,134.1 L73.20,136.4 L73.70,134.2 L74.20,136.3 L74.70,133.6 L75.20,133.9 L75.70,135.3 L76.20,135.8 L76.70,133.7 L77.20,135.2 L77.70,132.8 L78.20,133.0 L78.70,132.6 L79.20,134.1 L79.70,132.2 L80.20,134.0 L80.70,131.4 L81.20,131.3 L81.70,134.1 L82.20,131.1 L82.70,132.9 L83.20,131.1 L83.70,133.1 L84.20,131.5 L84.70,131.1 L85.20,131.0 L85.70,133.1 L86.20,130.6 L86.70,133.0 L87.20,130.2 L87.70,130.1 L88.20,132.4 L88.70,132.4 L89.20,129.7 L89.70,129.8 L90.20,132.1 L90.70,131.8 L91.20,129.5 L91.70,129.9 L92.20,131.4 L92.70,129.9 L93.20,131.0 L93.70,129.1 L94.20,130.9 L94.70,129.4 L95.20,131.4 L95.70,128.7 L96.20,128.8 L96.70,130.9 L97.20,129.1 L97.70,130.3 L98.20,128.3 L98.70,130.1 L99.20,128.3 L99.70,130.4 L100.20,129.8 L100.70,127.7 L101.20,128.9 L101.70,126.9 L102.20,128.7 L102.70,128.2 L103.20,126.0 L103.70,126.2 L104.20,128.2 L104.70,125.5 L105.20,127.2 L105.70,125.0 L106.20,125.4 L106.70,127.8 L107.20,125.1 L107.70,127.7 L108.20,127.2 L108.70,125.8 L109.20,127.4 L109.70,125.7 L110.20,125.3 L110.70,127.1 L111.20,127.1 L111.70,125.9 L112.20,127.1 L112.70,125.9 L113.20,127.8 L113.70,127.3 L114.20,125.9 L114.70,125.5 L115.20,128.0 L115.70,125.9 L116.20,127.4 L116.70,125.3 L117.20,126.0 L117.70,127.2 L118.20,125.0 L118.70,127.3 L119.20,125.3 L119.70,127.0 L120.20,125.3 L120.70,128.0 L121.20,125.5 L121.70,127.5 L122.20,127.4 L122.70,127.0 L123.20,125.7 L123.70,127.6 L124.20,125.9 L124.70,127.5 L125.20,125.7 L125.70,125.7 L126.20,127.4 L126.70,126.0 L127.20,125.2 L127.70,127.5 L128.20,127.3 L128.70,125.3 L129.20,125.3 L129.70,127.8 L130.20,126.0 L130.70,125.1 L131.20,127.9 L131.70,127.9 L132.20,125.8 L132.70,125.6 L133.20,125.9 L133.70,125.0 L134.20,124.6 L134.70,125.1 L135.20,127.5 L135.70,125.3 L136.20,127.0 L136.70,125.8 L137.20,127.1 L137.70,125.7 L138.20,127.0 L138.70,127.8 L139.20,125.4 L139.70,127.6 L140.20,125.7 L140.70,127.2 L141.20,125.4 L141.70,125.6 L142.20,125.5 L142.70,127.3 L143.20,125.7 L143.70,127.0 L144.20,125.4 L144.70,126.9 L145.20,124.8 L145.70,127.5 L146.20,127.6 L146.70,125.4 L147.20,127.0 L147.70,125.3 L148.20,127.4 L148.70,125.0 L149.20,126.7 L149.70,127.3 L150.20,124.6 L150.70,127.3 L151.20,124.5 L151.70,124.6 L152.20,127.2 L152.70,125.3 L153.20,126.3 L153.70,125.3 L154.20,127.2 L154.70,126.3 L155.20,124.8 L155.70,126.5 L156.20,127.1 L156.70,124.6 L157.20,126.2 L157.70,123.5 L158.20,124.9 L158.70,126.9 L159.20,124.7 L159.70,126.9 L160.20,124.4 L160.70,126.6 L161.20,124.9 L161.70,126.3 L162.20,124.6 L162.70,126.2 L163.20,124.9 L163.70,126.8 L164.20,124.2 L164.70,126.2 L165.20,124.0 L165.70,126.7 L166.20,126.8 L166.70,124.6 L167.20,124.5 L167.70,126.8 L168.20,124.4 L168.70,126.4 L169.20,124.6 L169.70,126.7 L170.20,124.8 L170.70,126.4 L171.20,124.1 L171.70,124.1 L172.20,126.5 L172.70,124.6 L173.20,126.3 L173.70,124.3 L174.20,126.4 L174.70,124.8 L175.20,127.0 L175.70,126.3 L176.20,124.4 L176.70,126.9 L177.20,124.6 L177.70,126.5 L178.20,125.0 L178.70,124.7 L179.20,124.2 L179.70,126.0 L180.20,124.8 L180.70,126.4 L181.20,124.2 L181.70,124.2 L182.20,126.8 L182.70,125.0 L183.20,126.3 L183.70,125.1 L184.20,126.8 L184.70,124.9 L185.20,126.7 L185.70,124.9 L186.20,127.0 L186.70,124.5 L187.20,126.4 L187.70,124.7 L188.20,124.6 L188.70,124.9 L189.20,126.4 L189.70,123.8 L190.20,125.1 L190.70,127.0 L191.20,125.2 L191.70,124.5 L192.20,126.9 L192.70,124.7 L193.20,126.8 L193.70,124.4 L194.20,126.9 L194.70,125.2 L195.20,126.9 L195.70,127.4 L196.20,126.9 L196.70,124.9 L197.20,127.1 L197.70,127.3 L198.20,125.3 L198.70,124.7 L199.20,127.3 L199.70,125.4 L200.20,125.1 L200.70,127.3 L201.20,124.6 L201.70,127.6 L202.20,124.7 L202.70,124.7 L203.20,126.6 L203.70,125.4 L204.20,125.6 L204.70,126.6 L205.20,126.8 L205.70,125.3 L206.20,127.3 L206.70,125.5 L207.20,127.7 L207.70,125.5 L208.20,127.5 L208.70,125.1 L209.20,127.3 L209.70,125.0 L210.20,127.4 L210.70,127.7 L211.20,124.9 L211.70,127.5 L212.20,125.4 L212.70,127.4 L213.20,125.3 L213.70,127.5 L214.20,125.4 L214.70,128.0 L215.20,126.0 L215.70,127.6 L216.20,125.4 L216.70,127.9 L217.20,126.0 L217.70,127.8 L218.20,125.7 L218.70,128.0 L219.20,125.2 L219.70,127.6 L220.20,126.2 L220.70,127.9 L221.20,125.9 L221.70,126.1 L222.20,128.2 L222.70,126.2 L223.20,128.1 L223.70,126.3 L224.20,127.9 L224.70,126.2 L225.20,128.3 L225.70,127.8 L226.20,126.5 L226.70,127.7 L227.20,125.7 L227.70,127.7 L228.20,125.6 L228.70,126.3 L229.20,127.8 L229.70,126.0 L230.20,128.5 L230.70,126.5 L231.20,126.6 L231.70,128.5 L232.20,128.4 L232.70,126.2 L233.20,126.8 L233.70,128.7 L234.20,126.7 L234.70,127.8 L235.20,125.9 L235.70,128.4 L236.20,125.9 L236.70,128.4 L237.20,126.9 L237.70,126.8 L238.20,128.9 L238.70,126.1 L239.20,128.0 L239.70,126.3 L240.20,129.0 L240.70,128.1 L241.20,127.1 L241.70,128.5 L242.20,126.4 L242.70,128.8 L243.20,126.8 L243.70,128.9 L244.20,127.2 L244.70,128.9 L245.20,126.8 L245.70,129.0 L246.20,127.9 L246.70,129.0 L247.20,127.8 L247.70,129.4 L248.20,127.4 L248.70,128.2 L249.20,130.1 L249.70,128.4 L250.20,129.7 L250.70,128.2 L251.20,129.8 L251.70,128.4 L252.20,129.8 L252.70,128.3 L253.20,130.7 L253.70,128.7 L254.20,130.9 L254.70,128.4 L255.20,129.0 L255.70,130.4 L256.20,131.3 L256.70,128.6 L257.20,128.6 L257.70,131.0 L258.20,128.9 L258.70,130.9 L259.20,129.2 L259.70,131.6 L260.20,129.9 L260.70,129.1 L261.20,131.9 L261.70,130.0 L262.20,131.5 L262.70,129.9 L263.20,132.1 L263.70,129.6 L264.20,131.2 L264.70,128.5 L265.20,130.3 L265.70,131.5 L266.20,129.8 L266.70,131.9 L267.20,129.4 L267.70,131.6 L268.20,130.4 L268.70,132.4 L269.20,132.4 L269.70,130.0 L270.20,132.0 L270.70,129.7 L271.20,132.4 L271.70,130.4 L272.20,132.2 L272.70,132.4 L273.20,130.0 L273.70,132.0 L274.20,128.6 L274.70,132.6 L275.20,130.8 L275.70,132.7 L276.20,132.7 L276.70,130.4 L277.20,132.5 L277.70,130.3 L278.20,129.9 L278.70,132.7 L279.20,130.5 L279.70,132.8 L280.20,132.3 L280.70,129.6 L281.20,132.2 L281.70,132.5 L282.20,132.1 L282.70,130.8 L283.20,132.3 L283.70,130.4 L284.20,132.6 L284.70,130.4 L285.20,132.2 L285.70,130.2 L286.20,132.3 L286.70,131.2 L287.20,133.1 L287.70,130.7 L288.20,132.3 L288.70,130.7 L289.20,132.4 L289.70,130.8 L290.20,133.2 L290.70,130.6 L291.20,133.3 L291.70,130.8 L292.20,132.7 L292.70,131.2 L293.20,133.1 L293.70,131.2 L294.20,130.5 L294.70,133.1 L295.20,130.8 L295.70,132.9 L296.00,126.0 L296.20,131.2 L296.25,131.9 L296.70,133.1 L297.20,130.9 L297.70,131.2 L298.20,131.3 L298.70,133.3 L299.20,131.5 L299.70,131.4 L300.20,132.8 L300.70,131.5 L301.20,133.0 L301.70,130.9 L302.20,131.1 L302.70,133.2 L303.20,132.7 L303.70,133.3 L304.20,131.1 L304.70,132.6 L305.20,132.5 L305.70,131.0 L306.20,130.5 L306.70,133.0 L307.20,131.1 L307.70,133.0 L308.20,133.0 L308.70,130.8 L309.20,132.9 L309.70,130.5 L310.20,132.5 L310.70,130.0" fill="none" stroke="#46b060" stroke-width="1.2" stroke-linejoin="round"/><path d="M52.3,119.0 L55.3,116.0 L58.3,119.0 L55.3,122.0 Z" fill="#fff" stroke="#46b060" stroke-width="0.8"/><path d="M55.3,116.0 L58.3,119.0 L55.3,122.0 Z" fill="#46b060"/><path d="M92.4,127.5 L95.0,124.9 L97.6,127.5 L95.0,130.1 Z" fill="#fff" stroke="#46b060" stroke-width="0.8"/><path d="M95.0,124.9 L97.6,127.5 L95.0,130.1 Z" fill="#46b060"/><path d="M101.4,125.4 L104.0,122.8 L106.6,125.4 L104.0,128.0 Z" fill="#fff" stroke="#46b060" stroke-width="0.8"/><path d="M104.0,122.8 L106.6,125.4 L104.0,128.0 Z" fill="#46b060"/><path d="M110.4,125.1 L113.0,122.5 L115.6,125.1 L113.0,127.7 Z" fill="#fff" stroke="#46b060" stroke-width="0.8"/><path d="M113.0,122.5 L115.6,125.1 L113.0,127.7 Z" fill="#46b060"/><path d="M121.4,124.2 L124.0,121.6 L126.6,124.2 L124.0,126.8 Z" fill="#fff" stroke="#46b060" stroke-width="0.8"/><path d="M124.0,121.6 L126.6,124.2 L124.0,126.8 Z" fill="#46b060"/><path d="M132.7,124.8 L135.3,122.2 L137.9,124.8 L135.3,127.4 Z" fill="#fff" stroke="#46b060" stroke-width="0.8"/><path d="M135.3,122.2 L137.9,124.8 L135.3,127.4 Z" fill="#46b060"/><path d="M145.4,123.6 L148.0,121.0 L150.6,123.6 L148.0,126.2 Z" fill="#fff" stroke="#46b060" stroke-width="0.8"/><path d="M148.0,121.0 L150.6,123.6 L148.0,126.2 Z" fill="#46b060"/><path d="M157.4,124.3 L160.0,121.7 L162.6,124.3 L160.0,126.9 Z" fill="#fff" stroke="#46b060" stroke-width="0.8"/><path d="M160.0,121.7 L162.6,124.3 L160.0,126.9 Z" fill="#46b060"/><path d="M169.4,124.6 L172.0,122.0 L174.6,124.6 L172.0,127.2 Z" fill="#fff" stroke="#46b060" stroke-width="0.8"/><path d="M172.0,122.0 L174.6,124.6 L172.0,127.2 Z" fill="#46b060"/><path d="M181.4,123.3 L184.0,120.7 L186.6,123.3 L184.0,125.9 Z" fill="#fff" stroke="#46b060" stroke-width="0.8"/><path d="M184.0,120.7 L186.6,123.3 L184.0,125.9 Z" fill="#46b060"/><path d="M194.4,125.1 L197.0,122.5 L199.6,125.1 L197.0,127.7 Z" fill="#fff" stroke="#46b060" stroke-width="0.8"/><path d="M197.0,122.5 L199.6,125.1 L197.0,127.7 Z" fill="#46b060"/><path d="M207.4,124.3 L210.0,121.7 L212.6,124.3 L210.0,126.9 Z" fill="#fff" stroke="#46b060" stroke-width="0.8"/><path d="M210.0,121.7 L212.6,124.3 L210.0,126.9 Z" fill="#46b060"/><path d="M233.4,125.7 L236.0,123.1 L238.6,125.7 L236.0,128.3 Z" fill="#fff" stroke="#46b060" stroke-width="0.8"/><path d="M236.0,123.1 L238.6,125.7 L236.0,128.3 Z" fill="#46b060"/><path d="M259.4,128.1 L262.0,125.5 L264.6,128.1 L262.0,130.7 Z" fill="#fff" stroke="#46b060" stroke-width="0.8"/><path d="M262.0,125.5 L264.6,128.1 L262.0,130.7 Z" fill="#46b060"/><path d="M285.4,129.3 L288.0,126.7 L290.6,129.3 L288.0,131.9 Z" fill="#fff" stroke="#46b060" stroke-width="0.8"/><path d="M288.0,126.7 L290.6,129.3 L288.0,131.9 Z" fill="#46b060"/><path d="M49.30,186.1 L49.80,177.8 L50.30,165.8 L50.80,144.2 L51.30,133.4 L51.80,124.9 L52.30,119.2 L52.80,113.4 L53.30,109.4 L53.80,112.7 L54.30,116.7 L54.80,120.1 L55.30,124.0 L55.80,125.3 L56.30,126.6 L56.80,125.3 L57.30,127.5 L57.80,125.7 L58.30,127.9 L58.80,125.9 L59.30,129.0 L59.80,125.1 L60.30,128.8 L60.80,127.9 L61.30,125.2 L61.80,125.3 L62.30,127.9 L62.80,128.7 L63.30,125.7 L63.80,128.7 L64.30,126.3 L64.80,128.0 L65.30,125.7 L65.80,128.3 L66.30,126.5 L66.80,126.1 L67.30,127.8 L67.80,125.4 L68.30,128.4 L68.80,128.4 L69.30,126.5 L69.80,128.8 L70.30,125.4 L70.80,128.3 L71.30,126.3 L71.80,128.3 L72.30,125.8 L72.80,128.1 L73.30,126.1 L73.80,128.0 L74.30,129.0 L74.80,126.1 L75.30,128.3 L75.80,125.3 L76.30,128.0 L76.80,129.1 L77.30,126.7 L77.80,128.1 L78.30,126.2 L78.80,125.7 L79.30,128.6 L79.80,128.7 L80.30,125.5 L80.80,128.7 L81.30,128.4 L81.80,128.1 L82.30,125.8 L82.80,129.3 L83.30,128.7 L83.80,125.9 L84.30,128.3 L84.80,126.4 L85.30,128.9 L85.80,126.7 L86.30,128.7 L86.80,128.9 L87.30,129.1 L87.80,125.9 L88.30,129.0 L88.80,126.5 L89.30,128.8 L89.80,126.9 L90.30,126.4 L90.80,126.1 L91.30,130.3 L91.80,127.1 L92.30,127.3 L92.80,129.2 L93.30,124.5 L93.80,130.1 L94.30,127.5 L94.80,130.4 L95.30,126.1 L95.80,126.3 L96.30,130.1 L96.80,127.5 L97.30,129.2 L97.80,126.9 L98.30,129.8 L98.80,130.1 L99.30,127.1 L99.80,126.8 L100.30,127.3 L100.80,130.0 L101.30,131.0 L101.80,127.1 L102.30,129.8 L102.80,127.6 L103.30,126.6 L103.80,131.1 L104.30,128.0 L104.80,124.7 L105.30,128.2 L105.80,131.1 L106.30,127.2 L106.80,130.0 L107.30,127.6 L107.80,130.1 L108.30,127.8 L108.80,130.8 L109.30,128.1 L109.80,131.0 L110.30,127.1 L110.80,130.4 L111.30,128.0 L111.80,131.0 L112.30,128.4 L112.80,130.2 L113.30,130.4 L113.80,128.2 L114.30,130.3 L114.80,126.2 L115.30,127.8 L115.80,131.6 L116.30,127.5 L116.80,131.7 L117.30,127.8 L117.80,130.6 L118.00,124.0 L118.25,129.9 L118.30,128.5 L118.80,131.3 L119.30,131.5 L119.80,128.4 L120.30,131.9 L120.80,131.6 L121.30,128.7 L121.80,130.9 L122.30,128.7 L122.80,128.3 L123.30,131.0 L123.80,128.4 L124.30,131.1 L124.80,128.5 L125.30,132.5 L125.80,129.6 L126.30,129.1 L126.80,129.0 L127.30,132.3 L127.80,129.2 L128.30,129.2 L128.80,131.7 L129.30,128.5 L129.80,132.6 L130.30,129.6 L130.80,132.6 L131.30,129.8 L131.80,132.7 L132.30,128.4 L132.80,132.7 L133.30,129.2 L133.80,129.3 L134.30,132.0 L134.80,129.2 L135.30,132.0 L135.80,130.2 L136.30,132.4 L136.80,130.4 L137.30,133.1 L137.80,133.2 L138.30,130.2 L138.80,133.1 L139.30,129.8 L139.80,132.9 L140.30,130.6 L140.80,130.7 L141.30,130.3 L141.80,133.7 L142.30,129.5 L142.80,133.1 L143.30,130.4 L143.80,133.8 L144.30,129.6 L144.80,132.7 L145.30,130.1 L145.80,133.8 L146.30,130.8 L146.80,132.6 L147.30,130.4 L147.80,132.7 L148.30,131.0 L148.80,129.0 L149.30,133.2 L149.80,130.1 L150.00,127.0 L150.25,132.0 L150.30,129.1 L150.80,133.9 L151.30,131.0 L151.80,131.1 L152.30,132.9 L152.80,130.0 L153.30,130.5 L153.80,133.2 L154.30,133.0 L154.80,131.4 L155.30,131.1 L155.80,133.7 L156.30,131.4 L156.80,131.3 L157.30,133.2 L157.80,131.4 L158.30,134.2 L158.80,133.8 L159.30,131.1 L159.80,134.3 L160.30,131.6 L160.80,130.5 L161.30,133.8 L161.80,131.0 L162.30,131.6 L162.80,130.6 L163.30,130.8 L163.80,134.0 L164.30,131.6 L164.80,134.1 L165.30,131.7 L165.80,135.0 L166.30,131.5 L166.80,131.8 L167.30,133.7 L167.80,130.6 L168.30,134.4 L168.80,131.2 L169.30,134.2 L169.80,131.9 L170.30,134.9 L170.80,131.9 L171.30,135.2 L171.80,134.5 L172.30,131.6 L172.80,134.9 L173.30,130.9 L173.80,135.2 L174.30,131.6 L174.80,131.7 L175.30,135.1 L175.80,131.6 L176.30,134.2 L176.80,131.6 L177.30,134.5 L177.80,135.1 L178.30,131.0 L178.80,134.0 L179.30,131.1 L179.80,132.0 L180.30,132.4 L180.80,134.5 L181.30,129.6 L181.80,135.6 L182.30,131.2 L182.80,132.2 L183.30,135.0 L183.80,132.5 L184.30,135.6 L184.80,131.3 L185.30,134.3 L185.80,131.9 L186.30,134.6 L186.80,132.2 L187.30,134.7 L187.80,132.8 L188.30,131.4 L188.80,135.0 L189.30,131.9 L189.80,135.8 L190.30,131.8 L190.80,131.5 L191.30,134.9 L191.80,132.4 L192.30,135.1 L192.80,132.3 L193.30,132.8 L193.80,135.0 L194.30,134.6 L194.80,132.3 L195.30,132.5 L195.80,135.7 L196.30,132.8 L196.80,132.2 L197.30,134.8 L197.80,131.8 L198.30,136.0 L198.80,132.8 L199.30,132.4 L199.80,134.8 L200.30,132.6 L200.80,135.3 L201.30,133.4 L201.80,135.6 L202.30,132.7 L202.80,134.9 L203.30,132.6 L203.80,134.9 L204.30,133.0 L204.80,135.0 L205.00,127.0 L205.25,134.1 L205.30,132.5 L205.80,129.1 L206.30,134.7 L206.80,129.2 L207.30,135.2 L207.80,133.3 L208.30,134.9 L208.80,132.4 L209.30,134.8 L209.80,133.5 L210.30,132.6 L210.80,135.4 L211.30,133.1 L211.80,135.1 L212.30,133.5 L212.80,135.0 L213.30,132.6 L213.80,135.3 L214.30,134.7 L214.80,133.6 L215.30,132.9 L215.80,132.5 L216.30,135.9 L216.80,133.2 L217.30,135.9 L217.80,135.4 L218.30,134.8 L218.80,134.9 L219.30,133.2 L219.80,133.0 L220.30,136.0 L220.80,135.8 L221.30,132.7 L221.80,134.9 L222.30,131.2 L222.80,135.4 L223.30,133.5 L223.80,135.2 L224.30,133.4 L224.80,136.0 L225.30,132.9 L225.80,135.0 L226.30,133.7 L226.80,135.1 L227.30,133.3 L227.80,135.1 L228.30,133.5 L228.80,133.8 L229.30,135.5 L229.80,132.9 L230.30,135.2 L230.80,135.1 L231.30,132.8 L231.80,135.0 L232.30,133.1 L232.80,135.4 L233.30,133.3 L233.80,133.7 L234.30,135.9 L234.80,133.6 L235.30,136.1 L235.80,133.7 L236.30,135.8 L236.80,133.4 L237.30,135.7 L237.80,135.6 L238.30,133.3 L238.80,135.6 L239.30,133.4 L239.80,136.1 L240.30,130.0 L240.80,134.0 L241.30,135.2 L241.80,133.2 L242.30,135.5 L242.80,131.5 L243.30,133.5 L243.80,136.1 L244.30,133.2 L244.80,135.5 L245.30,133.8 L245.80,135.1 L246.30,133.1 L246.80,135.0 L247.30,133.3 L247.80,135.2 L248.30,133.0 L248.80,136.0 L249.30,133.9 L249.80,133.9 L250.30,135.4 L250.80,133.5 L251.30,135.4 L251.80,132.9 L252.30,135.9 L252.80,133.5 L253.30,136.1 L253.80,133.0 L254.30,135.5 L254.80,133.7 L255.30,133.6 L255.80,135.8 L256.30,133.0 L256.80,135.9 L257.30,133.4 L257.80,133.9 L258.30,133.7 L258.80,135.9 L259.30,133.9 L259.80,135.6 L260.00,129.0 L260.25,134.5 L260.30,133.4 L260.80,135.7 L261.30,133.5 L261.80,136.2 L262.30,133.2 L262.80,136.3 L263.30,133.6 L263.80,135.9 L264.30,134.0 L264.80,135.8 L265.30,133.1 L265.80,136.3 L266.30,133.4 L266.80,134.0 L267.30,135.5 L267.80,133.7 L268.30,135.8 L268.80,134.1 L269.30,136.0 L269.80,133.4 L270.30,135.6 L270.80,134.2 L271.30,134.1 L271.80,135.9 L272.30,134.3 L272.80,136.2 L273.30,133.4 L273.80,135.4 L274.30,133.5 L274.80,136.4 L275.30,136.2 L275.80,135.4 L276.30,135.8 L276.80,132.3 L277.30,136.3 L277.80,134.4 L278.30,136.2 L278.80,131.4 L279.30,134.4 L279.80,136.0 L280.30,136.3 L280.80,133.6 L281.30,136.4 L281.80,134.0 L282.30,136.4 L282.80,136.2 L283.30,133.8 L283.80,133.4 L284.30,135.8 L284.80,134.2 L285.30,133.6 L285.80,136.7 L286.30,134.4 L286.80,134.1 L287.30,134.0 L287.80,136.3 L288.30,135.9 L288.80,134.5 L289.30,133.6 L289.80,136.5 L290.30,136.7 L290.80,133.6 L291.30,136.7 L291.80,136.7 L292.30,134.0 L292.80,137.0 L293.30,133.7 L293.80,136.4 L294.30,133.9 L294.80,136.2 L295.30,133.9 L295.80,136.9 L296.30,134.4 L296.80,137.0 L297.30,134.6 L297.80,133.8 L298.30,136.6 L298.80,134.0 L299.30,134.9 L299.80,137.2 L300.30,134.5 L300.80,136.9 L301.30,134.4 L301.80,135.0 L302.30,137.0 L302.80,134.7 L303.30,136.3 L303.80,136.5 L304.30,134.7 L304.80,137.2 L305.30,134.8 L305.80,136.7 L306.30,134.9 L306.80,136.4 L307.30,134.5 L307.80,136.7 L308.30,136.7 L308.80,134.3 L309.30,136.8 L309.80,136.8 L310.30,134.2 L310.80,137.2" fill="none" stroke="#8f10f5" stroke-width="1.3" stroke-linejoin="round"/><path d="M53.2,105.5 L56.1,110.6 L50.4,110.6 Z" fill="#fff" stroke="#8f10f5" stroke-width="0.8"/><path d="M53.2,105.5 L56.1,110.6 L53.2,110.6 Z" fill="#8f10f5"/><path d="M80.0,122.0 L82.8,127.1 L77.2,127.1 Z" fill="#fff" stroke="#8f10f5" stroke-width="0.8"/><path d="M80.0,122.0 L82.8,127.1 L80.0,127.1 Z" fill="#8f10f5"/><path d="M92.0,122.4 L94.8,127.5 L89.2,127.5 Z" fill="#fff" stroke="#8f10f5" stroke-width="0.8"/><path d="M92.0,122.4 L94.8,127.5 L92.0,127.5 Z" fill="#8f10f5"/><path d="M104.0,123.9 L106.8,129.0 L101.2,129.0 Z" fill="#fff" stroke="#8f10f5" stroke-width="0.8"/><path d="M104.0,123.9 L106.8,129.0 L104.0,129.0 Z" fill="#8f10f5"/><path d="M113.0,123.2 L115.8,128.3 L110.2,128.3 Z" fill="#fff" stroke="#8f10f5" stroke-width="0.8"/><path d="M113.0,123.2 L115.8,128.3 L113.0,128.3 Z" fill="#8f10f5"/><path d="M125.0,125.1 L127.8,130.2 L122.2,130.2 Z" fill="#fff" stroke="#8f10f5" stroke-width="0.8"/><path d="M125.0,125.1 L127.8,130.2 L125.0,130.2 Z" fill="#8f10f5"/><path d="M138.0,126.1 L140.8,131.2 L135.2,131.2 Z" fill="#fff" stroke="#8f10f5" stroke-width="0.8"/><path d="M138.0,126.1 L140.8,131.2 L138.0,131.2 Z" fill="#8f10f5"/><path d="M150.0,126.1 L152.8,131.2 L147.2,131.2 Z" fill="#fff" stroke="#8f10f5" stroke-width="0.8"/><path d="M150.0,126.1 L152.8,131.2 L150.0,131.2 Z" fill="#8f10f5"/><path d="M162.0,127.8 L164.8,132.9 L159.2,132.9 Z" fill="#fff" stroke="#8f10f5" stroke-width="0.8"/><path d="M162.0,127.8 L164.8,132.9 L162.0,132.9 Z" fill="#8f10f5"/><path d="M175.0,127.2 L177.8,132.3 L172.2,132.3 Z" fill="#fff" stroke="#8f10f5" stroke-width="0.8"/><path d="M175.0,127.2 L177.8,132.3 L175.0,132.3 Z" fill="#8f10f5"/><path d="M188.0,127.4 L190.8,132.5 L185.2,132.5 Z" fill="#fff" stroke="#8f10f5" stroke-width="0.8"/><path d="M188.0,127.4 L190.8,132.5 L188.0,132.5 Z" fill="#8f10f5"/><path d="M200.0,128.8 L202.8,133.9 L197.2,133.9 Z" fill="#fff" stroke="#8f10f5" stroke-width="0.8"/><path d="M200.0,128.8 L202.8,133.9 L200.0,133.9 Z" fill="#8f10f5"/><path d="M213.0,127.8 L215.8,132.9 L210.2,132.9 Z" fill="#fff" stroke="#8f10f5" stroke-width="0.8"/><path d="M213.0,127.8 L215.8,132.9 L213.0,132.9 Z" fill="#8f10f5"/><path d="M226.0,128.8 L228.8,133.9 L223.2,133.9 Z" fill="#fff" stroke="#8f10f5" stroke-width="0.8"/><path d="M226.0,128.8 L228.8,133.9 L226.0,133.9 Z" fill="#8f10f5"/><path d="M240.0,128.5 L242.8,133.6 L237.2,133.6 Z" fill="#fff" stroke="#8f10f5" stroke-width="0.8"/><path d="M240.0,128.5 L242.8,133.6 L240.0,133.6 Z" fill="#8f10f5"/><path d="M253.0,129.1 L255.8,134.2 L250.2,134.2 Z" fill="#fff" stroke="#8f10f5" stroke-width="0.8"/><path d="M253.0,129.1 L255.8,134.2 L253.0,134.2 Z" fill="#8f10f5"/><path d="M266.0,129.3 L268.9,134.4 L263.1,134.4 Z" fill="#fff" stroke="#8f10f5" stroke-width="0.8"/><path d="M266.0,129.3 L268.9,134.4 L266.0,134.4 Z" fill="#8f10f5"/><path d="M279.0,129.9 L281.9,135.0 L276.1,135.0 Z" fill="#fff" stroke="#8f10f5" stroke-width="0.8"/><path d="M279.0,129.9 L281.9,135.0 L279.0,135.0 Z" fill="#8f10f5"/><path d="M292.0,130.8 L294.9,135.9 L289.1,135.9 Z" fill="#fff" stroke="#8f10f5" stroke-width="0.8"/><path d="M292.0,130.8 L294.9,135.9 L292.0,135.9 Z" fill="#8f10f5"/><path d="M305.0,130.7 L307.9,135.8 L302.1,135.8 Z" fill="#fff" stroke="#8f10f5" stroke-width="0.8"/><path d="M305.0,130.7 L307.9,135.8 L305.0,135.8 Z" fill="#8f10f5"/><path d="M49.8,205.5 L52,209.5 L47.6,209.5 Z" fill="#8f10f5"/><path d="M48.70,148.0 L49.30,149.1 L49.90,148.1 L50.50,149.5 L51.10,148.8 L51.70,147.6 L52.30,149.0 L52.90,149.5 L53.50,148.2 L54.10,150.0 L54.70,149.7 L55.30,147.6 L55.90,148.6 L56.50,149.6 L57.10,147.6 L57.70,147.4 L58.30,146.4 L58.90,146.0 L59.50,145.5 L60.10,147.0 L60.70,146.6 L61.30,146.8 L61.90,146.0 L62.50,145.3 L63.10,144.0 L63.70,145.4 L64.30,145.4 L64.90,143.9 L65.50,143.7 L66.10,144.8 L66.70,142.2 L67.30,143.6 L67.90,142.9 L68.50,142.9 L69.10,141.9 L69.70,142.6 L70.30,141.5 L70.90,141.7 L71.50,141.5 L72.10,141.3 L72.70,140.5 L73.30,142.1 L73.90,141.7 L74.50,142.2 L75.10,141.2 L75.70,142.6 L76.30,142.5 L76.90,141.4 L77.50,142.7 L78.10,140.8 L78.70,142.6 L79.30,142.9 L79.90,141.6 L80.50,142.1 L81.10,141.3 L81.70,143.4 L82.30,143.1 L82.90,142.0 L83.50,142.8 L84.10,141.7 L84.70,143.7 L85.30,143.9 L85.90,142.9 L86.50,144.0 L87.10,143.3 L87.70,144.0 L88.30,143.9 L88.90,142.4 L89.50,144.0 L90.10,143.9 L90.70,143.5 L91.30,144.7 L91.90,142.8 L92.50,142.7 L93.10,143.0 L93.70,144.3 L94.30,144.0 L94.90,143.9 L95.50,143.2 L96.10,143.7 L96.70,144.2 L97.30,144.6 L97.90,144.8 L98.50,142.9 L99.10,143.1 L99.70,143.4 L100.30,143.6 L100.90,143.7 L101.50,143.9 L102.10,145.1 L102.70,144.1 L103.30,145.1 L103.90,144.2 L104.50,144.5 L105.10,143.5 L105.70,144.0 L106.30,142.8 L106.90,145.0 L107.50,143.4 L108.10,142.9 L108.70,142.7 L109.30,144.4 L109.90,144.0 L110.50,144.0 L111.10,143.6 L111.70,143.3 L112.30,142.3 L112.90,142.7 L113.50,144.0 L114.10,143.1 L114.70,142.8 L115.30,143.4 L115.90,142.0 L116.50,142.9 L117.10,143.7 L117.70,143.0 L118.30,143.1 L118.90,143.1 L119.50,141.9 L120.10,142.2 L120.70,143.1 L121.30,143.5 L121.90,141.8 L122.50,141.9 L123.10,142.2 L123.70,141.5 L124.30,142.5 L124.90,140.9 L125.50,142.3 L126.10,141.3 L126.70,142.0 L127.30,142.6 L127.90,140.9 L128.50,140.6 L129.10,140.6 L129.70,140.7 L130.30,142.2 L130.90,140.9 L131.50,140.5 L132.10,140.7 L132.70,140.1 L133.30,139.7 L133.90,141.8 L134.50,139.5 L135.10,139.5 L135.70,141.0 L136.30,139.2 L136.90,139.4 L137.50,140.2 L138.10,139.9 L138.70,140.8 L139.30,140.1 L139.90,139.2 L140.50,140.0 L141.10,140.5 L141.70,140.8 L142.30,138.5 L142.90,138.6 L143.50,140.1 L144.10,138.7 L144.70,140.1 L145.30,139.6 L145.90,139.9 L146.50,138.6 L147.10,138.6 L147.70,139.9 L148.30,137.9 L148.90,139.3 L149.50,138.2 L150.10,137.6 L150.70,139.1 L151.30,137.8 L151.90,139.6 L152.50,138.3 L153.10,139.0 L153.70,137.4 L154.30,137.7 L154.90,138.0 L155.50,138.6 L156.10,138.7 L156.70,137.4 L157.30,138.9 L157.90,138.5 L158.50,138.7 L159.10,138.1 L159.70,139.1 L160.30,139.0 L160.90,138.6 L161.50,137.5 L162.10,138.0 L162.70,138.1 L163.30,138.7 L163.90,138.6 L164.50,138.8 L165.10,138.2 L165.70,138.4 L166.30,136.5 L166.90,136.7 L167.50,138.1 L168.10,136.5 L168.70,137.1 L169.30,136.1 L169.90,136.5 L170.50,138.2 L171.10,138.1 L171.70,136.3 L172.30,137.0 L172.90,137.8 L173.50,137.5 L174.10,137.0 L174.70,137.1 L175.30,137.2 L175.90,136.0 L176.50,137.3 L177.10,137.6 L177.70,138.3 L178.30,136.8 L178.90,137.4 L179.50,137.2 L180.10,136.3 L180.70,137.6 L181.30,137.0 L181.90,136.7 L182.50,137.0 L183.10,136.7 L183.70,137.2 L184.30,137.8 L184.90,136.7 L185.50,137.6 L186.10,138.0 L186.70,137.8 L187.30,135.9 L187.90,137.2 L188.50,137.7 L189.10,137.3 L189.70,136.2 L190.30,136.9 L190.90,136.2 L191.50,136.4 L192.10,136.5 L192.70,136.0 L193.30,137.3 L193.90,135.9 L194.50,137.2 L195.10,137.3 L195.70,136.6 L196.30,137.9 L196.90,137.1 L197.50,136.4 L198.10,137.3 L198.70,136.6 L199.30,136.0 L199.90,135.5 L200.50,136.6 L201.10,137.0 L201.70,135.8 L202.30,136.0 L202.90,136.4 L203.50,136.2 L204.10,136.1 L204.70,137.2 L205.30,136.3 L205.90,137.0 L206.50,136.8 L207.10,136.3 L207.70,137.1 L208.30,136.4 L208.90,136.1 L209.50,137.3 L210.10,137.2 L210.70,136.0 L211.30,136.7 L211.90,136.9 L212.50,136.1 L213.10,138.2 L213.70,137.5 L214.30,138.3 L214.90,138.5 L215.50,137.9 L216.10,136.6 L216.70,137.8 L217.30,137.2 L217.90,136.4 L218.50,136.5 L219.10,138.2 L219.70,136.7 L220.30,136.6 L220.90,137.5 L221.50,137.3 L222.10,137.5 L222.70,138.0 L223.30,137.8 L223.90,137.0 L224.50,137.3 L225.10,137.0 L225.70,137.6 L226.30,136.7 L226.90,138.7 L227.50,138.3 L228.10,138.3 L228.70,138.5 L229.30,137.7 L229.90,138.2 L230.50,138.5 L231.10,137.6 L231.70,138.9 L232.30,138.5 L232.90,138.5 L233.50,139.0 L234.10,139.4 L234.70,137.9 L235.30,137.4 L235.90,138.5 L236.50,137.7 L237.10,138.6 L237.70,139.0 L238.30,139.3 L238.90,139.5 L239.50,138.9 L240.10,139.5 L240.70,138.3 L241.30,138.0 L241.90,138.2 L242.50,137.3 L243.10,138.4 L243.70,137.5 L244.30,137.6 L244.90,138.1 L245.50,139.1 L246.10,138.4 L246.70,137.7 L247.30,139.2 L247.90,139.9 L248.50,139.0 L249.10,139.2 L249.70,137.9 L250.30,139.9 L250.90,139.2 L251.50,138.3 L252.10,137.7 L252.70,138.1 L253.30,138.2 L253.90,139.7 L254.50,139.2 L255.10,139.8 L255.70,139.3 L256.30,139.7 L256.90,140.1 L257.50,138.5 L258.10,138.9 L258.70,140.0 L259.30,139.7 L259.90,138.8 L260.50,139.1 L261.10,140.4 L261.70,140.4 L262.30,139.2 L262.90,140.0 L263.50,139.6 L264.10,140.2 L264.70,138.3 L265.30,139.3 L265.90,138.5 L266.50,138.5 L267.10,139.9 L267.70,138.9 L268.30,139.7 L268.90,138.4 L269.50,140.6 L270.10,139.6 L270.70,139.7 L271.30,139.3 L271.90,138.7 L272.50,140.1 L273.10,138.5 L273.70,138.7 L274.30,139.1 L274.90,139.2 L275.50,138.7 L276.10,138.5 L276.70,138.9 L277.30,139.3 L277.90,140.5 L278.50,139.6 L279.10,140.1 L279.70,140.0 L280.30,139.8 L280.90,140.0 L281.50,139.2 L282.10,140.9 L282.70,140.7 L283.30,140.3 L283.90,140.4 L284.50,139.9 L285.10,139.2 L285.70,140.2 L286.30,138.9 L286.90,141.0 L287.50,140.0 L288.10,139.9 L288.70,141.0 L289.30,139.3 L289.90,139.8 L290.50,140.4 L291.10,140.4 L291.70,138.8 L292.30,139.7 L292.90,140.4 L293.50,141.1 L294.10,140.9 L294.70,140.3 L295.30,139.0 L295.90,139.8 L296.50,139.9 L297.10,140.6 L297.70,139.5 L298.30,139.8 L298.90,139.5 L299.50,139.4 L300.10,140.7 L300.70,139.2 L301.30,141.0 L301.90,141.1 L302.50,139.4 L303.10,141.0 L303.70,139.1 L304.30,139.4 L304.90,140.5 L305.50,140.0 L306.10,139.8 L306.70,139.5 L307.30,139.4 L307.90,139.8 L308.50,139.9 L309.10,140.3 L309.70,140.1 L310.30,140.7 L310.90,140.8 L310.90,148.9 L310.30,147.6 L309.70,146.8 L309.10,148.5 L308.50,148.2 L307.90,146.9 L307.30,146.9 L306.70,147.8 L306.10,148.2 L305.50,148.9 L304.90,147.7 L304.30,148.0 L303.70,147.0 L303.10,147.7 L302.50,147.6 L301.90,148.0 L301.30,147.8 L300.70,148.9 L300.10,148.2 L299.50,148.0 L298.90,148.4 L298.30,148.5 L297.70,147.0 L297.10,148.8 L296.50,146.6 L295.90,147.3 L295.30,147.4 L294.70,148.6 L294.10,147.6 L293.50,147.9 L292.90,148.8 L292.30,146.9 L291.70,147.1 L291.10,147.4 L290.50,147.0 L289.90,148.0 L289.30,147.4 L288.70,148.2 L288.10,147.6 L287.50,148.0 L286.90,146.8 L286.30,147.0 L285.70,147.8 L285.10,148.3 L284.50,146.8 L283.90,147.2 L283.30,146.8 L282.70,146.4 L282.10,147.4 L281.50,147.7 L280.90,148.3 L280.30,147.9 L279.70,147.9 L279.10,146.8 L278.50,147.9 L277.90,147.6 L277.30,146.7 L276.70,146.6 L276.10,146.2 L275.50,147.3 L274.90,147.3 L274.30,146.6 L273.70,146.9 L273.10,148.1 L272.50,146.5 L271.90,146.6 L271.30,147.7 L270.70,146.8 L270.10,146.7 L269.50,146.9 L268.90,148.1 L268.30,147.3 L267.70,146.1 L267.10,145.9 L266.50,147.7 L265.90,147.1 L265.30,147.9 L264.70,147.4 L264.10,147.9 L263.50,148.0 L262.90,146.1 L262.30,147.3 L261.70,147.8 L261.10,145.8 L260.50,147.7 L259.90,146.3 L259.30,146.2 L258.70,147.3 L258.10,147.4 L257.50,146.0 L256.90,146.2 L256.30,145.7 L255.70,145.8 L255.10,147.4 L254.50,146.7 L253.90,145.8 L253.30,145.4 L252.70,146.1 L252.10,146.1 L251.50,147.1 L250.90,147.2 L250.30,146.1 L249.70,146.0 L249.10,147.2 L248.50,145.9 L247.90,145.7 L247.30,147.1 L246.70,145.9 L246.10,146.8 L245.50,146.0 L244.90,146.1 L244.30,146.2 L243.70,146.5 L243.10,146.8 L242.50,145.1 L241.90,145.2 L241.30,145.2 L240.70,146.4 L240.10,146.4 L239.50,146.0 L238.90,146.0 L238.30,146.7 L237.70,146.8 L237.10,146.5 L236.50,146.6 L235.90,145.3 L235.30,145.6 L234.70,146.9 L234.10,145.3 L233.50,145.1 L232.90,146.8 L232.30,146.3 L231.70,144.8 L231.10,146.6 L230.50,145.6 L229.90,146.4 L229.30,145.0 L228.70,145.6 L228.10,145.4 L227.50,144.8 L226.90,145.1 L226.30,144.7 L225.70,144.7 L225.10,146.4 L224.50,144.9 L223.90,145.3 L223.30,145.0 L222.70,145.2 L222.10,145.7 L221.50,146.1 L220.90,144.6 L220.30,145.6 L219.70,144.7 L219.10,145.7 L218.50,144.7 L217.90,144.6 L217.30,145.8 L216.70,145.4 L216.10,144.6 L215.50,145.0 L214.90,145.6 L214.30,143.9 L213.70,144.1 L213.10,145.5 L212.50,144.8 L211.90,145.5 L211.30,145.8 L210.70,144.3 L210.10,145.1 L209.50,145.5 L208.90,144.0 L208.30,144.9 L207.70,143.6 L207.10,145.1 L206.50,145.2 L205.90,143.6 L205.30,143.6 L204.70,145.3 L204.10,143.6 L203.50,143.4 L202.90,144.0 L202.30,145.1 L201.70,144.3 L201.10,144.5 L200.50,143.7 L199.90,144.6 L199.30,145.0 L198.70,144.4 L198.10,144.7 L197.50,144.0 L196.90,144.7 L196.30,144.1 L195.70,144.4 L195.10,144.6 L194.50,143.2 L193.90,145.3 L193.30,144.2 L192.70,143.4 L192.10,143.7 L191.50,144.8 L190.90,144.9 L190.30,145.0 L189.70,143.8 L189.10,144.0 L188.50,143.9 L187.90,143.7 L187.30,144.1 L186.70,145.5 L186.10,143.8 L185.50,145.2 L184.90,144.0 L184.30,145.2 L183.70,145.0 L183.10,144.9 L182.50,144.5 L181.90,145.4 L181.30,143.5 L180.70,145.4 L180.10,144.0 L179.50,145.8 L178.90,144.8 L178.30,143.5 L177.70,144.4 L177.10,145.2 L176.50,145.4 L175.90,145.5 L175.30,144.6 L174.70,144.2 L174.10,144.4 L173.50,144.1 L172.90,145.4 L172.30,145.1 L171.70,144.1 L171.10,144.8 L170.50,144.8 L169.90,143.9 L169.30,145.2 L168.70,145.1 L168.10,143.8 L167.50,144.7 L166.90,145.1 L166.30,144.9 L165.70,144.8 L165.10,145.7 L164.50,145.3 L163.90,144.6 L163.30,145.4 L162.70,144.5 L162.10,146.0 L161.50,145.7 L160.90,144.3 L160.30,146.6 L159.70,145.3 L159.10,146.6 L158.50,146.6 L157.90,145.0 L157.30,146.7 L156.70,146.6 L156.10,145.8 L155.50,145.1 L154.90,146.0 L154.30,144.9 L153.70,146.8 L153.10,146.1 L152.50,146.6 L151.90,146.3 L151.30,145.3 L150.70,146.6 L150.10,146.3 L149.50,145.3 L148.90,145.7 L148.30,146.5 L147.70,145.6 L147.10,147.0 L146.50,146.4 L145.90,146.4 L145.30,146.8 L144.70,147.2 L144.10,146.0 L143.50,147.7 L142.90,148.1 L142.30,147.5 L141.70,148.3 L141.10,148.2 L140.50,146.8 L139.90,147.3 L139.30,146.6 L138.70,148.5 L138.10,146.9 L137.50,148.8 L136.90,147.5 L136.30,148.1 L135.70,147.5 L135.10,148.4 L134.50,148.2 L133.90,148.8 L133.30,149.1 L132.70,149.6 L132.10,148.0 L131.50,147.8 L130.90,149.0 L130.30,148.7 L129.70,148.5 L129.10,149.1 L128.50,149.4 L127.90,149.9 L127.30,148.7 L126.70,148.6 L126.10,149.6 L125.50,148.7 L124.90,150.5 L124.30,149.4 L123.70,150.7 L123.10,148.7 L122.50,148.9 L121.90,149.4 L121.30,148.7 L120.70,151.1 L120.10,150.3 L119.50,151.1 L118.90,150.6 L118.30,151.1 L117.70,151.0 L117.10,151.1 L116.50,151.0 L115.90,150.5 L115.30,151.7 L114.70,150.7 L114.10,150.2 L113.50,151.4 L112.90,151.4 L112.30,150.9 L111.70,150.4 L111.10,150.9 L110.50,151.1 L109.90,150.2 L109.30,151.2 L108.70,152.1 L108.10,150.4 L107.50,152.6 L106.90,151.1 L106.30,152.2 L105.70,151.7 L105.10,152.0 L104.50,152.7 L103.90,151.6 L103.30,150.7 L102.70,151.8 L102.10,151.2 L101.50,151.3 L100.90,150.7 L100.30,152.3 L99.70,152.3 L99.10,152.4 L98.50,151.6 L97.90,152.4 L97.30,152.6 L96.70,150.5 L96.10,152.1 L95.50,150.8 L94.90,150.9 L94.30,151.1 L93.70,150.6 L93.10,152.3 L92.50,151.3 L91.90,150.4 L91.30,150.5 L90.70,152.4 L90.10,150.7 L89.50,152.1 L88.90,151.4 L88.30,152.1 L87.70,149.8 L87.10,150.3 L86.50,150.3 L85.90,150.9 L85.30,150.8 L84.70,151.2 L84.10,149.7 L83.50,150.9 L82.90,151.3 L82.30,150.1 L81.70,151.2 L81.10,149.6 L80.50,149.1 L79.90,149.3 L79.30,148.6 L78.70,149.5 L78.10,150.2 L77.50,148.6 L76.90,148.7 L76.30,149.2 L75.70,149.3 L75.10,150.2 L74.50,150.0 L73.90,149.3 L73.30,148.7 L72.70,149.9 L72.10,148.4 L71.50,149.7 L70.90,150.7 L70.30,149.1 L69.70,150.3 L69.10,150.5 L68.50,151.0 L67.90,150.5 L67.30,151.9 L66.70,150.0 L66.10,150.9 L65.50,151.2 L64.90,151.4 L64.30,152.9 L63.70,151.5 L63.10,152.4 L62.50,153.3 L61.90,153.6 L61.30,154.2 L60.70,152.8 L60.10,153.1 L59.50,152.8 L58.90,154.0 L58.30,154.3 L57.70,153.7 L57.10,153.5 L56.50,152.6 L55.90,152.1 L55.30,152.7 L54.70,153.5 L54.10,153.8 L53.50,152.1 L52.90,152.6 L52.30,152.2 L51.70,152.9 L51.10,152.6 L50.50,153.2 L49.90,153.9 L49.30,153.1 L48.70,153.7Z" fill="#cadc40"/><path d="M48.70,152.2 L49.20,149.7 L49.70,151.9 L50.20,149.3 L50.70,151.7 L51.20,151.7 L51.70,152.5 L52.20,150.4 L52.70,151.9 L53.20,149.8 L53.70,152.3 L54.20,149.5 L54.70,153.0 L55.20,152.6 L55.70,149.9 L56.20,151.9 L56.70,147.0 L57.20,152.4 L57.70,149.3 L58.20,152.0 L58.70,149.2 L59.20,149.4 L59.70,150.7 L60.20,146.1 L60.70,154.2 L61.20,147.4 L61.70,152.0 L62.20,151.9 L62.70,152.0 L63.20,150.7 L63.70,151.1 L64.20,145.4 L64.70,151.9 L65.20,144.7 L65.70,151.1 L66.20,145.0 L66.70,151.9 L67.20,142.4 L67.70,141.5 L68.20,143.4 L68.70,151.9 L69.20,143.7 L69.70,143.4 L70.20,148.0 L70.70,141.0 L71.20,142.0 L71.70,142.3 L72.20,148.6 L72.70,142.3 L73.20,141.0 L73.70,139.4 L74.20,140.1 L74.70,141.6 L75.00,134.0 L75.20,150.7 L75.25,145.2 L75.70,140.8 L76.20,141.0 L76.70,148.5 L77.20,140.5 L77.70,150.6 L78.20,142.6 L78.70,147.7 L79.20,140.8 L79.70,150.4 L80.20,141.2 L80.70,147.9 L81.20,143.6 L81.70,150.3 L82.20,148.0 L82.70,144.0 L83.20,150.7 L83.70,143.6 L84.20,149.9 L84.70,151.7 L85.20,143.9 L85.70,151.7 L86.20,152.2 L86.70,143.6 L87.20,150.3 L87.70,144.3 L88.20,143.8 L88.70,152.3 L89.20,143.5 L89.70,149.2 L90.20,145.8 L90.70,145.3 L91.20,150.9 L91.70,142.8 L92.20,145.2 L92.70,149.3 L93.20,145.3 L93.70,152.0 L94.20,143.1 L94.70,152.9 L95.20,143.3 L95.70,151.8 L96.20,151.6 L96.70,153.1 L97.20,145.4 L97.70,152.0 L98.20,142.8 L98.70,144.2 L99.20,153.1 L99.70,150.0 L100.20,142.6 L100.70,149.9 L101.20,145.0 L101.70,150.1 L102.20,143.0 L102.70,151.4 L103.20,150.3 L103.70,143.4 L104.20,152.7 L104.70,144.6 L105.20,145.3 L105.70,144.0 L106.20,151.4 L106.70,145.9 L107.20,144.4 L107.70,144.1 L108.20,151.3 L108.70,142.4 L109.20,149.7 L109.70,142.4 L110.20,149.9 L110.70,143.8 L111.20,149.9 L111.70,144.3 L112.20,151.7 L112.70,144.5 L113.20,150.4 L113.70,143.3 L114.20,151.1 L114.70,142.0 L115.20,149.4 L115.70,141.7 L116.20,151.9 L116.70,141.6 L117.20,151.0 L117.70,141.7 L118.20,148.6 L118.70,144.7 L119.20,151.5 L119.70,149.9 L120.20,141.9 L120.70,148.2 L121.20,142.5 L121.70,148.4 L122.20,140.5 L122.70,144.0 L123.20,141.3 L123.70,149.4 L124.20,144.0 L124.70,148.0 L125.20,142.4 L125.70,149.2 L126.20,140.7 L126.70,149.5 L127.20,141.8 L127.70,142.6 L128.20,140.6 L128.70,140.1 L129.20,140.5 L129.70,149.5 L130.20,141.5 L130.70,149.0 L131.20,139.6 L131.70,149.0 L132.20,141.6 L132.70,140.3 L133.20,146.3 L133.70,141.9 L134.20,146.9 L134.70,141.8 L135.20,140.7 L135.70,138.8 L136.20,146.2 L136.70,142.3 L137.20,140.6 L137.70,148.0 L138.20,140.7 L138.70,147.0 L139.20,140.0 L139.70,146.6 L140.20,141.9 L140.70,146.8 L141.20,145.4 L141.70,145.5 L142.20,147.0 L142.70,147.1 L143.20,146.8 L143.70,147.3 L144.20,139.8 L144.70,146.8 L145.20,138.9 L145.70,146.9 L146.20,139.3 L146.70,138.4 L147.20,147.9 L147.70,139.8 L148.20,146.5 L148.70,138.1 L149.20,148.0 L149.70,144.3 L150.20,139.2 L150.70,146.2 L151.20,138.2 L151.70,145.5 L152.20,139.4 L152.70,144.2 L153.20,138.2 L153.70,145.5 L154.20,139.1 L154.70,145.1 L155.20,136.9 L155.70,144.1 L156.20,144.0 L156.70,137.7 L157.20,143.9 L157.70,140.0 L158.20,146.2 L158.70,138.8 L159.20,143.9 L159.70,136.6 L160.20,138.4 L160.70,138.8 L161.20,146.8 L161.70,138.6 L162.20,144.7 L162.70,136.8 L163.20,145.3 L163.70,136.9 L164.20,145.2 L164.70,137.2 L165.20,137.6 L165.70,143.3 L166.20,139.3 L166.70,145.8 L167.20,138.7 L167.70,145.8 L168.20,135.8 L168.70,144.8 L169.20,135.9 L169.70,145.2 L170.20,145.9 L170.70,145.1 L171.20,136.2 L171.70,143.2 L172.20,137.9 L172.70,144.2 L173.20,139.1 L173.70,145.1 L174.20,139.0 L174.70,146.1 L175.20,138.6 L175.70,145.3 L176.20,138.5 L176.70,145.5 L177.20,136.1 L177.70,145.9 L178.20,144.6 L178.70,143.4 L179.20,136.1 L179.70,144.5 L180.20,136.4 L180.70,143.9 L181.20,136.8 L181.70,143.7 L182.20,137.2 L182.70,143.5 L183.20,136.2 L183.70,145.7 L184.20,143.5 L184.70,137.3 L185.20,144.7 L185.70,145.4 L186.20,138.7 L186.70,137.0 L187.20,145.6 L187.70,138.8 L188.20,145.1 L188.70,138.6 L189.20,146.1 L189.70,142.4 L190.20,138.1 L190.70,142.3 L191.20,143.1 L191.70,137.5 L192.20,143.6 L192.70,138.0 L193.20,143.5 L193.70,145.0 L194.20,138.6 L194.70,144.8 L195.20,137.4 L195.70,138.6 L196.20,142.7 L196.70,135.4 L197.20,144.7 L197.70,137.4 L198.20,142.2 L198.70,135.1 L199.20,144.5 L199.70,137.5 L200.20,143.6 L200.70,135.7 L201.20,145.2 L201.70,143.6 L202.20,136.2 L202.70,136.2 L203.20,135.3 L203.70,142.6 L204.20,136.3 L204.70,143.7 L205.20,135.3 L205.70,144.5 L206.20,138.1 L206.70,136.0 L207.20,145.6 L207.70,138.3 L208.20,143.2 L208.70,139.1 L209.20,146.2 L209.70,136.7 L210.20,137.3 L210.70,144.4 L211.20,137.1 L211.70,143.7 L212.20,136.9 L212.70,143.3 L213.20,144.5 L213.70,136.8 L214.20,144.6 L214.70,146.1 L215.20,137.3 L215.70,137.5 L216.20,144.1 L216.70,136.1 L217.20,145.8 L217.70,139.3 L218.20,144.9 L218.70,137.0 L219.20,144.2 L219.70,139.4 L220.20,137.2 L220.70,136.6 L221.20,145.2 L221.70,146.1 L222.20,136.1 L222.70,144.3 L223.20,136.4 L223.70,138.5 L224.20,143.3 L224.70,145.1 L225.20,145.0 L225.70,136.4 L226.20,136.7 L226.70,144.0 L227.20,144.1 L227.70,136.6 L228.20,146.2 L228.70,136.7 L229.20,146.1 L229.70,143.7 L230.20,137.4 L230.70,144.4 L231.20,138.8 L231.70,145.8 L232.20,136.7 L232.70,146.0 L233.20,138.6 L233.70,143.8 L234.20,139.3 L234.70,139.2 L235.20,144.7 L235.70,136.9 L236.20,138.6 L236.70,147.3 L237.20,138.3 L237.70,146.3 L238.20,138.5 L238.70,138.5 L239.20,137.5 L239.70,144.7 L240.20,137.5 L240.70,145.8 L241.20,138.7 L241.70,146.7 L242.20,137.8 L242.70,145.6 L243.20,137.6 L243.70,146.2 L244.20,139.8 L244.70,144.2 L245.20,138.7 L245.70,144.4 L246.20,145.1 L246.70,137.6 L247.20,145.7 L247.70,137.1 L248.20,147.1 L248.70,146.0 L249.20,140.0 L249.70,139.4 L250.20,144.6 L250.70,138.0 L251.20,145.3 L251.70,139.2 L252.20,139.7 L252.70,140.9 L253.20,144.6 L253.70,137.8 L254.20,146.2 L254.70,139.7 L255.20,145.8 L255.70,140.5 L256.20,146.3 L256.70,137.4 L257.20,145.3 L257.70,138.6 L258.20,144.6 L258.70,139.8 L259.20,140.3 L259.70,148.2 L260.20,139.0 L260.70,139.9 L261.20,145.9 L261.70,141.2 L262.20,144.9 L262.70,141.3 L263.20,146.8 L263.70,140.4 L264.20,145.3 L264.70,138.7 L265.20,148.1 L265.70,140.2 L266.20,144.9 L266.70,138.4 L267.20,138.9 L267.70,138.9 L268.20,148.2 L268.70,141.2 L269.20,145.1 L269.70,139.7 L270.20,146.5 L270.70,139.1 L271.20,146.2 L271.70,139.4 L272.20,147.7 L272.70,140.3 L273.20,145.2 L273.70,139.9 L274.20,145.1 L274.70,139.5 L275.20,145.7 L275.70,138.1 L276.20,148.7 L276.70,139.4 L277.20,146.1 L277.70,146.6 L278.20,145.6 L278.70,140.4 L279.20,141.1 L279.70,146.0 L280.20,140.3 L280.70,147.7 L281.20,139.7 L281.70,140.6 L282.20,146.4 L282.70,139.3 L283.20,141.3 L283.70,147.4 L284.20,139.1 L284.70,146.2 L285.20,140.0 L285.70,145.6 L286.20,141.6 L286.70,147.2 L287.20,138.7 L287.70,147.3 L288.20,139.3 L288.70,146.6 L289.20,138.8 L289.70,140.5 L290.20,148.6 L290.70,146.9 L291.20,141.4 L291.70,149.1 L292.20,148.1 L292.70,140.6 L293.20,142.0 L293.70,145.7 L294.20,138.4 L294.70,145.6 L295.20,140.8 L295.70,148.8 L296.00,133.0 L296.20,139.9 L296.25,143.9 L296.70,147.1 L297.20,139.2 L297.70,146.0 L298.20,147.5 L298.70,142.2 L299.20,148.0 L299.70,140.5 L300.20,145.8 L300.70,141.2 L301.20,147.5 L301.70,149.0 L302.20,139.2 L302.70,147.8 L303.20,141.3 L303.70,138.5 L304.20,140.5 L304.70,141.9 L305.20,148.6 L305.70,142.3 L306.20,145.7 L306.70,139.3 L307.20,148.7 L307.70,149.4 L308.20,140.8 L308.70,149.2 L309.20,141.5 L309.70,148.2 L310.20,148.1 L310.70,138.9" fill="none" stroke="#c8dc38" stroke-width="1.3" stroke-linejoin="round"/><circle cx="62.0" cy="151.1" r="2.5" fill="#fff" stroke="#c8dc38" stroke-width="0.8"/><path d="M62.0,148.6 A2.5,2.5 0 0 1 62.0,153.6 Z" fill="#c8dc38"/><circle cx="80.0" cy="143.5" r="2.5" fill="#fff" stroke="#c8dc38" stroke-width="0.8"/><path d="M80.0,141.0 A2.5,2.5 0 0 1 80.0,146.0 Z" fill="#c8dc38"/><circle cx="100.0" cy="147.6" r="2.5" fill="#fff" stroke="#c8dc38" stroke-width="0.8"/><path d="M100.0,145.1 A2.5,2.5 0 0 1 100.0,150.1 Z" fill="#c8dc38"/><circle cx="120.0" cy="143.8" r="2.5" fill="#fff" stroke="#c8dc38" stroke-width="0.8"/><path d="M120.0,141.3 A2.5,2.5 0 0 1 120.0,146.3 Z" fill="#c8dc38"/><circle cx="140.0" cy="142.6" r="2.5" fill="#fff" stroke="#c8dc38" stroke-width="0.8"/><path d="M140.0,140.1 A2.5,2.5 0 0 1 140.0,145.1 Z" fill="#c8dc38"/><circle cx="160.0" cy="138.8" r="2.5" fill="#fff" stroke="#c8dc38" stroke-width="0.8"/><path d="M160.0,136.3 A2.5,2.5 0 0 1 160.0,141.3 Z" fill="#c8dc38"/><circle cx="180.0" cy="139.8" r="2.5" fill="#fff" stroke="#c8dc38" stroke-width="0.8"/><path d="M180.0,137.3 A2.5,2.5 0 0 1 180.0,142.3 Z" fill="#c8dc38"/><circle cx="200.0" cy="140.6" r="2.5" fill="#fff" stroke="#c8dc38" stroke-width="0.8"/><path d="M200.0,138.1 A2.5,2.5 0 0 1 200.0,143.1 Z" fill="#c8dc38"/><circle cx="220.0" cy="139.6" r="2.5" fill="#fff" stroke="#c8dc38" stroke-width="0.8"/><path d="M220.0,137.1 A2.5,2.5 0 0 1 220.0,142.1 Z" fill="#c8dc38"/><circle cx="240.0" cy="143.9" r="2.5" fill="#fff" stroke="#c8dc38" stroke-width="0.8"/><path d="M240.0,141.4 A2.5,2.5 0 0 1 240.0,146.4 Z" fill="#c8dc38"/><circle cx="260.0" cy="140.3" r="2.5" fill="#fff" stroke="#c8dc38" stroke-width="0.8"/><path d="M260.0,137.8 A2.5,2.5 0 0 1 260.0,142.8 Z" fill="#c8dc38"/><circle cx="280.0" cy="141.8" r="2.5" fill="#fff" stroke="#c8dc38" stroke-width="0.8"/><path d="M280.0,139.3 A2.5,2.5 0 0 1 280.0,144.3 Z" fill="#c8dc38"/><circle cx="300.0" cy="142.5" r="2.5" fill="#fff" stroke="#c8dc38" stroke-width="0.8"/><path d="M300.0,140.0 A2.5,2.5 0 0 1 300.0,145.0 Z" fill="#c8dc38"/><path d="M48.70,165.2 L49.20,165.1 L49.70,165.6 L50.20,165.9 L50.70,165.8 L51.20,166.4 L51.70,166.2 L52.20,166.7 L52.70,166.9 L53.20,167.1 L53.70,166.9 L54.20,166.5 L54.70,166.7 L55.20,166.0 L55.70,166.3 L56.20,165.8 L56.70,166.0 L57.20,165.3 L57.70,165.4 L58.20,164.9 L58.70,164.8 L59.20,164.5 L59.70,164.7 L60.20,164.2 L60.70,164.3 L61.20,163.8 L61.70,163.9 L62.20,163.3 L62.70,163.5 L63.20,163.4 L63.70,163.0 L64.20,164.7 L64.70,162.4 L65.20,162.3 L65.70,162.5 L66.20,162.2 L66.70,161.7 L67.20,162.0 L67.70,161.3 L68.20,161.7 L68.70,161.2 L69.20,161.5 L69.70,160.8 L70.20,161.2 L70.70,161.1 L71.20,161.0 L71.70,160.3 L72.20,160.6 L72.70,160.1 L73.20,160.5 L73.70,159.8 L74.20,160.2 L74.70,159.8 L75.20,159.7 L75.70,160.1 L76.20,159.8 L76.70,160.1 L77.20,159.7 L77.70,160.1 L78.20,159.9 L78.70,159.7 L79.20,159.9 L79.70,159.7 L80.20,159.9 L80.70,159.4 L81.20,159.8 L81.70,159.4 L82.20,159.9 L82.70,159.8 L83.20,159.4 L83.70,159.8 L84.20,159.3 L84.70,159.7 L85.20,159.4 L85.70,159.6 L86.20,159.8 L86.70,159.2 L87.20,159.3 L87.70,159.6 L88.20,159.1 L88.70,159.4 L89.20,158.8 L89.70,159.1 L90.20,159.0 L90.70,159.0 L91.20,158.5 L91.70,158.8 L92.20,160.4 L92.70,158.4 L93.20,158.0 L93.70,158.3 L94.20,157.6 L94.70,158.0 L95.20,157.4 L95.70,157.7 L96.20,157.2 L96.70,157.6 L97.20,156.9 L97.70,156.8 L98.20,157.1 L98.70,156.9 L99.20,156.6 L99.70,156.6 L100.20,156.1 L100.70,156.0 L101.20,156.5 L101.70,155.8 L102.20,156.1 L102.70,155.6 L103.20,155.4 L103.70,155.4 L104.20,155.2 L104.70,155.5 L105.20,154.9 L105.70,155.3 L106.20,155.1 L106.70,154.7 L107.20,154.9 L107.70,154.3 L108.20,154.7 L108.70,154.3 L109.20,154.7 L109.70,154.4 L110.20,155.6 L110.70,153.7 L111.20,155.6 L111.70,152.7 L112.20,156.1 L112.70,153.1 L113.20,155.4 L113.70,152.7 L114.20,155.9 L114.70,153.7 L115.20,156.2 L115.70,152.7 L116.20,155.9 L116.70,153.1 L117.20,156.1 L117.70,153.2 L118.20,158.1 L118.70,153.1 L119.20,156.6 L119.70,153.6 L120.20,155.9 L120.70,153.9 L121.20,155.4 L121.70,155.8 L122.20,153.6 L122.70,156.2 L123.20,155.3 L123.70,152.5 L124.20,155.0 L124.70,153.2 L125.20,155.6 L125.70,155.0 L126.20,152.6 L126.70,155.5 L127.20,151.7 L127.70,152.1 L128.20,151.5 L128.70,154.6 L129.20,152.2 L129.70,154.7 L130.20,151.4 L130.70,151.8 L131.20,153.7 L131.70,152.0 L132.20,154.7 L132.70,151.0 L133.20,151.8 L133.70,153.6 L134.20,150.9 L134.70,151.5 L135.20,153.3 L135.70,151.3 L136.20,153.6 L136.70,151.0 L137.20,154.2 L137.70,151.2 L138.20,151.2 L138.70,150.6 L139.20,154.0 L139.70,150.9 L140.20,150.0 L140.70,153.8 L141.20,150.0 L141.70,150.6 L142.20,152.5 L142.70,149.9 L143.20,150.2 L143.70,153.3 L144.20,153.2 L144.70,150.3 L145.20,152.4 L145.70,150.0 L146.20,153.0 L146.70,150.2 L147.20,153.2 L147.70,150.5 L148.20,152.3 L148.70,150.3 L149.20,153.0 L149.70,149.2 L150.20,152.4 L150.70,149.7 L151.20,150.0 L151.70,152.7 L152.20,150.0 L152.70,152.6 L153.20,150.1 L153.70,149.8 L154.20,151.5 L154.70,150.0 L155.20,151.6 L155.70,148.6 L156.20,149.7 L156.70,152.7 L157.20,152.3 L157.70,149.3 L158.20,148.7 L158.70,151.0 L159.20,148.3 L159.70,151.3 L160.20,152.1 L160.70,148.4 L161.20,151.9 L161.70,150.5 L162.20,148.3 L162.70,148.7 L163.20,151.3 L163.70,148.9 L164.20,151.3 L164.70,150.6 L165.20,147.8 L165.70,150.5 L166.20,148.7 L166.70,151.9 L167.20,150.4 L167.70,148.5 L168.20,149.9 L168.70,147.5 L169.20,147.4 L169.70,151.0 L170.20,148.1 L170.70,149.6 L171.20,147.3 L171.70,150.4 L172.20,147.9 L172.70,149.8 L173.20,147.3 L173.70,149.7 L174.20,146.7 L174.70,149.2 L175.20,147.6 L175.70,146.2 L176.20,148.8 L176.70,149.8 L177.20,146.7 L177.70,146.6 L178.20,149.3 L178.70,148.9 L179.20,146.5 L179.70,148.4 L180.20,146.1 L180.70,149.4 L181.20,146.0 L181.70,148.3 L182.20,145.4 L182.70,150.6 L183.20,148.0 L183.70,148.1 L184.20,145.8 L184.70,149.9 L185.20,145.4 L185.70,145.5 L186.20,148.7 L186.70,146.0 L187.20,147.3 L187.70,145.5 L188.20,148.5 L188.70,145.0 L189.20,148.0 L189.70,144.5 L190.20,147.5 L190.70,144.6 L191.20,146.9 L191.70,144.4 L192.20,147.2 L192.70,147.5 L193.20,144.9 L193.70,148.0 L194.20,144.5 L194.70,146.4 L195.20,147.0 L195.70,144.8 L196.20,147.3 L196.70,144.2 L197.20,147.0 L197.70,143.8 L198.20,144.4 L198.70,143.8 L199.20,144.4 L199.70,146.8 L200.20,143.3 L200.70,146.5 L201.20,144.1 L201.70,143.9 L202.20,145.7 L202.70,143.1 L203.20,146.2 L203.70,144.0 L204.20,145.7 L204.70,143.2 L205.20,146.5 L205.70,143.1 L206.20,142.8 L206.70,146.4 L207.20,143.7 L207.70,143.6 L208.20,146.0 L208.70,142.8 L209.20,145.2 L209.70,143.3 L210.20,146.1 L210.70,142.6 L211.20,142.7 L211.70,145.3 L212.20,142.4 L212.70,145.5 L213.20,142.7 L213.70,145.5 L214.20,142.4 L214.70,146.0 L215.20,143.3 L215.70,145.9 L216.20,142.8 L216.70,145.3 L217.20,145.9 L217.70,142.1 L218.20,145.1 L218.70,143.1 L219.20,145.2 L219.70,142.6 L220.20,144.5 L220.70,142.2 L221.20,144.6 L221.70,141.7 L222.20,142.4 L222.70,141.9 L223.20,141.9 L223.70,142.4 L224.20,144.4 L224.70,142.1 L225.20,145.0 L225.70,141.6 L226.20,141.6 L226.70,145.8 L227.20,144.7 L227.70,142.0 L228.20,143.9 L228.70,142.0 L229.20,145.1 L229.70,142.0 L230.20,141.4 L230.70,144.2 L231.20,144.9 L231.70,144.1 L232.20,145.7 L232.70,142.3 L233.20,144.4 L233.70,141.2 L234.20,144.8 L234.70,141.2 L235.20,144.7 L235.70,141.8 L236.20,144.2 L236.70,143.9 L237.20,140.8 L237.70,144.4 L238.20,144.2 L238.70,145.3 L239.20,144.1 L239.70,140.9 L240.20,140.9 L240.70,143.4 L241.20,141.4 L241.70,143.7 L242.20,141.5 L242.70,143.9 L243.20,140.1 L243.70,140.4 L244.20,143.8 L244.70,140.7 L245.20,140.0 L245.70,142.4 L246.20,141.0 L246.70,142.3 L247.20,140.7 L247.70,142.6 L248.20,140.8 L248.70,139.5 L249.20,142.7 L249.70,140.5 L250.20,142.1 L250.70,139.6 L251.20,142.9 L251.70,139.7 L252.20,142.3 L252.70,140.0 L253.20,140.1 L253.70,139.9 L254.20,142.7 L254.70,139.2 L255.20,141.8 L255.70,139.7 L256.20,141.3 L256.70,138.8 L257.20,141.1 L257.70,138.7 L258.20,141.3 L258.70,141.9 L259.20,138.4 L259.70,141.8 L260.20,140.9 L260.70,138.9 L261.20,141.1 L261.70,138.6 L262.20,138.8 L262.70,140.7 L263.20,139.1 L263.70,140.9 L264.20,141.1 L264.70,138.4 L265.20,140.4 L265.70,138.5 L266.20,141.5 L266.70,140.8 L267.20,141.7 L267.70,140.7 L268.20,141.6 L268.70,137.9 L269.20,141.3 L269.70,140.7 L270.20,138.8 L270.70,141.4 L271.20,138.7 L271.70,140.9 L272.20,138.0 L272.70,141.5 L273.20,138.3 L273.70,140.8 L274.20,137.6 L274.70,140.5 L275.20,138.0 L275.70,141.3 L276.20,137.9 L276.70,141.4 L277.20,137.9 L277.70,141.0 L278.20,137.6 L278.70,140.5 L279.20,138.0 L279.70,140.2 L280.20,138.1 L280.70,140.6 L281.20,137.5 L281.70,140.8 L282.20,138.2 L282.70,141.1 L283.20,140.3 L283.70,140.6 L284.20,138.5 L284.70,140.2 L285.20,137.7 L285.70,140.0 L286.20,137.7 L286.70,141.1 L287.20,140.0 L287.70,137.4 L288.20,140.8 L288.70,138.5 L289.20,139.7 L289.70,137.3 L290.20,140.6 L290.70,137.2 L291.20,138.2 L291.70,140.3 L292.20,137.6 L292.70,137.3 L293.20,139.7 L293.70,138.1 L294.20,140.7 L294.70,140.9 L295.20,137.3 L295.70,140.1 L296.20,137.1 L296.70,140.6 L297.20,138.0 L297.70,137.5 L298.20,140.0 L298.70,137.5 L299.20,140.3 L299.70,137.9 L300.20,139.5 L300.70,140.7 L301.20,137.7 L301.70,139.6 L302.20,139.4 L302.70,137.6 L303.20,140.2 L303.70,138.0 L304.20,140.5 L304.70,136.9 L305.20,140.5 L305.70,137.8 L306.20,140.6 L306.70,137.5 L307.20,140.5 L307.70,137.7 L308.20,140.2 L308.70,137.4 L309.20,139.5 L309.70,137.0 L310.20,139.6 L310.70,137.2" fill="none" stroke="#6e1212" stroke-width="1.2" stroke-linejoin="round"/><circle cx="53.2" cy="167.6" r="2.6" fill="#fff" stroke="#6e1212" stroke-width="0.8"/><circle cx="67.0" cy="161.8" r="2.6" fill="#fff" stroke="#6e1212" stroke-width="0.8"/><circle cx="87.3" cy="159.5" r="2.6" fill="#fff" stroke="#6e1212" stroke-width="0.8"/><circle cx="106.8" cy="154.2" r="2.6" fill="#fff" stroke="#6e1212" stroke-width="0.8"/><circle cx="118.7" cy="154.8" r="2.6" fill="#fff" stroke="#6e1212" stroke-width="0.8"/><circle cx="126.7" cy="154.8" r="2.6" fill="#fff" stroke="#6e1212" stroke-width="0.8"/><circle cx="140.0" cy="152.5" r="2.6" fill="#fff" stroke="#6e1212" stroke-width="0.8"/><circle cx="157.4" cy="148.4" r="2.6" fill="#fff" stroke="#6e1212" stroke-width="0.8"/><circle cx="168.6" cy="144.7" r="2.6" fill="#fff" stroke="#6e1212" stroke-width="0.8"/><circle cx="187.2" cy="142.2" r="2.6" fill="#fff" stroke="#6e1212" stroke-width="0.8"/><circle cx="187.6" cy="148.4" r="2.6" fill="#fff" stroke="#6e1212" stroke-width="0.8"/><circle cx="200.5" cy="141.5" r="2.6" fill="#fff" stroke="#6e1212" stroke-width="0.8"/><circle cx="203.3" cy="146.0" r="2.6" fill="#fff" stroke="#6e1212" stroke-width="0.8"/><circle cx="213.3" cy="139.7" r="2.6" fill="#fff" stroke="#6e1212" stroke-width="0.8"/><circle cx="235.5" cy="147.0" r="2.6" fill="#fff" stroke="#6e1212" stroke-width="0.8"/><circle cx="236.8" cy="143.0" r="2.6" fill="#fff" stroke="#6e1212" stroke-width="0.8"/><circle cx="247.5" cy="147.0" r="2.6" fill="#fff" stroke="#6e1212" stroke-width="0.8"/><circle cx="251.1" cy="139.7" r="2.6" fill="#fff" stroke="#6e1212" stroke-width="0.8"/><circle cx="263.5" cy="142.1" r="2.6" fill="#fff" stroke="#6e1212" stroke-width="0.8"/><circle cx="274.2" cy="139.2" r="2.6" fill="#fff" stroke="#6e1212" stroke-width="0.8"/><circle cx="289.6" cy="144.1" r="2.6" fill="#fff" stroke="#6e1212" stroke-width="0.8"/><circle cx="294.6" cy="144.1" r="2.6" fill="#fff" stroke="#6e1212" stroke-width="0.8"/><circle cx="292.6" cy="139.2" r="2.6" fill="#fff" stroke="#6e1212" stroke-width="0.8"/></g><g></g><rect x="48.7" y="10.0" width="262.5" height="211.5" fill="none" stroke="#000" stroke-width="1.5"/><line x1="44.7" y1="221.50" x2="48.7" y2="221.50" stroke="#000" stroke-width="1.3"/><line x1="46.2" y1="208.28" x2="48.7" y2="208.28" stroke="#000" stroke-width="1.3"/><line x1="44.7" y1="195.06" x2="48.7" y2="195.06" stroke="#000" stroke-width="1.3"/><line x1="46.2" y1="181.84" x2="48.7" y2="181.84" stroke="#000" stroke-width="1.3"/><line x1="44.7" y1="168.62" x2="48.7" y2="168.62" stroke="#000" stroke-width="1.3"/><line x1="46.2" y1="155.40" x2="48.7" y2="155.40" stroke="#000" stroke-width="1.3"/><line x1="44.7" y1="142.18" x2="48.7" y2="142.18" stroke="#000" stroke-width="1.3"/><line x1="46.2" y1="128.96" x2="48.7" y2="128.96" stroke="#000" stroke-width="1.3"/><line x1="44.7" y1="115.74" x2="48.7" y2="115.74" stroke="#000" stroke-width="1.3"/><line x1="46.2" y1="102.52" x2="48.7" y2="102.52" stroke="#000" stroke-width="1.3"/><line x1="44.7" y1="89.30" x2="48.7" y2="89.30" stroke="#000" stroke-width="1.3"/><line x1="46.2" y1="76.08" x2="48.7" y2="76.08" stroke="#000" stroke-width="1.3"/><line x1="44.7" y1="62.86" x2="48.7" y2="62.86" stroke="#000" stroke-width="1.3"/><line x1="46.2" y1="49.64" x2="48.7" y2="49.64" stroke="#000" stroke-width="1.3"/><line x1="44.7" y1="36.42" x2="48.7" y2="36.42" stroke="#000" stroke-width="1.3"/><line x1="46.2" y1="23.20" x2="48.7" y2="23.20" stroke="#000" stroke-width="1.3"/><line x1="44.7" y1="9.98" x2="48.7" y2="9.98" stroke="#000" stroke-width="1.3"/><line x1="48.80" y1="221.5" x2="48.80" y2="225.5" stroke="#000" stroke-width="1.3"/><line x1="70.64" y1="221.5" x2="70.64" y2="224.0" stroke="#000" stroke-width="1.3"/><line x1="92.47" y1="221.5" x2="92.47" y2="225.5" stroke="#000" stroke-width="1.3"/><line x1="114.31" y1="221.5" x2="114.31" y2="224.0" stroke="#000" stroke-width="1.3"/><line x1="136.15" y1="221.5" x2="136.15" y2="225.5" stroke="#000" stroke-width="1.3"/><line x1="157.99" y1="221.5" x2="157.99" y2="224.0" stroke="#000" stroke-width="1.3"/><line x1="179.82" y1="221.5" x2="179.82" y2="225.5" stroke="#000" stroke-width="1.3"/><line x1="201.66" y1="221.5" x2="201.66" y2="224.0" stroke="#000" stroke-width="1.3"/><line x1="223.50" y1="221.5" x2="223.50" y2="225.5" stroke="#000" stroke-width="1.3"/><line x1="245.34" y1="221.5" x2="245.34" y2="224.0" stroke="#000" stroke-width="1.3"/><line x1="267.18" y1="221.5" x2="267.18" y2="225.5" stroke="#000" stroke-width="1.3"/><line x1="289.01" y1="221.5" x2="289.01" y2="224.0" stroke="#000" stroke-width="1.3"/><line x1="310.85" y1="221.5" x2="310.85" y2="225.5" stroke="#000" stroke-width="1.3"/><text x="41.6" y="226.5" text-anchor="end" font-size="15" font-weight="bold">0.0</text><text x="41.6" y="200.1" text-anchor="end" font-size="15" font-weight="bold">0.1</text><text x="41.6" y="173.6" text-anchor="end" font-size="15" font-weight="bold">0.2</text><text x="41.6" y="147.2" text-anchor="end" font-size="15" font-weight="bold">0.3</text><text x="41.6" y="120.7" text-anchor="end" font-size="15" font-weight="bold">0.4</text><text x="41.6" y="94.3" text-anchor="end" font-size="15" font-weight="bold">0.5</text><text x="41.6" y="67.9" text-anchor="end" font-size="15" font-weight="bold">0.6</text><text x="41.6" y="41.4" text-anchor="end" font-size="15" font-weight="bold">0.7</text><text x="41.6" y="15.0" text-anchor="end" font-size="15" font-weight="bold">0.8</text><text x="48.8" y="240.2" text-anchor="middle" font-size="15" font-weight="bold">0</text><text x="92.5" y="240.2" text-anchor="middle" font-size="15" font-weight="bold">5</text><text x="136.1" y="240.2" text-anchor="middle" font-size="15" font-weight="bold">10</text><text x="179.8" y="240.2" text-anchor="middle" font-size="15" font-weight="bold">15</text><text x="223.5" y="240.2" text-anchor="middle" font-size="15" font-weight="bold">20</text><text x="267.2" y="240.2" text-anchor="middle" font-size="15" font-weight="bold">25</text><text x="310.8" y="240.2" text-anchor="middle" font-size="15" font-weight="bold">30</text><text x="180" y="257.6" text-anchor="middle" font-size="15" font-weight="bold">Time (min)</text><text transform="translate(14.3,115.6) rotate(-90)" text-anchor="middle" font-size="15" font-weight="bold">Friction coefficient</text><text x="2.2" y="16.6" font-size="16" font-weight="bold">(a)</text><line x1="62.3" y1="188.3" x2="87" y2="188.3" stroke="#555555" stroke-width="1.3"/><circle cx="75.5" cy="188.3" r="3.4" fill="#fff" stroke="#555555" stroke-width="0.9"/><path d="M75.5,184.9 A3.4,3.4 0 0 1 75.5,191.7 Z" fill="#555555"/><text x="72.5" y="205.6" text-anchor="middle" font-size="11.8" font-weight="bold">Cu</text><line x1="96.8" y1="188.3" x2="121.5" y2="188.3" stroke="#ea3530" stroke-width="1.3"/><circle cx="110.0" cy="188.3" r="3.4" fill="#fff" stroke="#ea3530" stroke-width="0.9"/><path d="M110.0,184.9 A3.4,3.4 0 0 1 110.0,191.7 Z" fill="#ea3530"/><text x="103.9" y="205.6" text-anchor="middle" font-size="11.8" font-weight="bold">Cu5T</text><line x1="131.5" y1="188.3" x2="155.6" y2="188.3" stroke="#3a7ede" stroke-width="1.3"/><rect x="141.9" y="184.9" width="5.2" height="6.8" fill="#fff" stroke="#3a7ede" stroke-width="0.9"/><rect x="144.5" y="184.9" width="2.6" height="6.8" fill="#3a7ede"/><text x="142.5" y="205.6" text-anchor="middle" font-size="11.8" font-weight="bold">Cu10T</text><line x1="168" y1="188.3" x2="192.8" y2="188.3" stroke="#4cb565" stroke-width="1.3"/><path d="M177.2,188.3 L181.0,184.5 L184.8,188.3 L181.0,192.1 Z" fill="#fff" stroke="#4cb565" stroke-width="0.9"/><path d="M181.0,184.5 L184.8,188.3 L181.0,192.1 Z" fill="#4cb565"/><text x="181.2" y="205.6" text-anchor="middle" font-size="11.8" font-weight="bold">Cu15T</text><line x1="203.4" y1="188.3" x2="228.6" y2="188.3" stroke="#9b1cf2" stroke-width="1.3"/><path d="M216.1,184.5 L219.7,191.0 L212.5,191.0 Z" fill="#fff" stroke="#9b1cf2" stroke-width="0.9"/><path d="M216.1,184.5 L219.7,191.0 L216.1,191.0 Z" fill="#9b1cf2"/><text x="217.2" y="205.6" text-anchor="middle" font-size="11.8" font-weight="bold">Cu20T</text><line x1="240.2" y1="188.3" x2="265" y2="188.3" stroke="#c4d82e" stroke-width="1.3"/><circle cx="254.0" cy="188.3" r="3.4" fill="#fff" stroke="#c4d82e" stroke-width="0.9"/><path d="M254.0,184.9 A3.4,3.4 0 0 1 254.0,191.7 Z" fill="#c4d82e"/><text x="254.7" y="205.6" text-anchor="middle" font-size="11.8" font-weight="bold">Cu25T</text><line x1="277.5" y1="188.3" x2="302" y2="188.3" stroke="#7a1a1a" stroke-width="1.3"/><circle cx="290.0" cy="188.3" r="3.4" fill="#fff" stroke="#7a1a1a" stroke-width="0.9"/><text x="292" y="205.6" text-anchor="middle" font-size="11.8" font-weight="bold">Cu30T</text><line x1="373.0" y1="9.6" x2="637.9" y2="9.6" stroke="#000" stroke-width="1.5"/><line x1="372.25" y1="221.9" x2="638.65" y2="221.9" stroke="#000" stroke-width="1.6"/><line x1="373.0" y1="9.25" x2="373.0" y2="222.6" stroke="#1c1cc4" stroke-width="1.5"/><line x1="637.9" y1="9.25" x2="637.9" y2="222.6" stroke="#8b1a1a" stroke-width="1.5"/><line x1="369.5" y1="221.80" x2="373.0" y2="221.80" stroke="#1c1cc4" stroke-width="1.3"/><line x1="370.8" y1="208.57" x2="373.0" y2="208.57" stroke="#1c1cc4" stroke-width="1.3"/><line x1="369.5" y1="195.34" x2="373.0" y2="195.34" stroke="#1c1cc4" stroke-width="1.3"/><line x1="370.8" y1="182.11" x2="373.0" y2="182.11" stroke="#1c1cc4" stroke-width="1.3"/><line x1="369.5" y1="168.88" x2="373.0" y2="168.88" stroke="#1c1cc4" stroke-width="1.3"/><line x1="370.8" y1="155.65" x2="373.0" y2="155.65" stroke="#1c1cc4" stroke-width="1.3"/><line x1="369.5" y1="142.42" x2="373.0" y2="142.42" stroke="#1c1cc4" stroke-width="1.3"/><line x1="370.8" y1="129.19" x2="373.0" y2="129.19" stroke="#1c1cc4" stroke-width="1.3"/><line x1="369.5" y1="115.96" x2="373.0" y2="115.96" stroke="#1c1cc4" stroke-width="1.3"/><line x1="370.8" y1="102.73" x2="373.0" y2="102.73" stroke="#1c1cc4" stroke-width="1.3"/><line x1="369.5" y1="89.50" x2="373.0" y2="89.50" stroke="#1c1cc4" stroke-width="1.3"/><line x1="370.8" y1="76.27" x2="373.0" y2="76.27" stroke="#1c1cc4" stroke-width="1.3"/><line x1="369.5" y1="63.04" x2="373.0" y2="63.04" stroke="#1c1cc4" stroke-width="1.3"/><line x1="370.8" y1="49.81" x2="373.0" y2="49.81" stroke="#1c1cc4" stroke-width="1.3"/><line x1="369.5" y1="36.58" x2="373.0" y2="36.58" stroke="#1c1cc4" stroke-width="1.3"/><line x1="370.8" y1="23.35" x2="373.0" y2="23.35" stroke="#1c1cc4" stroke-width="1.3"/><line x1="369.5" y1="10.12" x2="373.0" y2="10.12" stroke="#1c1cc4" stroke-width="1.3"/><line x1="637.9" y1="221.80" x2="641.4" y2="221.80" stroke="#8b1a1a" stroke-width="1.3"/><line x1="637.9" y1="191.56" x2="641.4" y2="191.56" stroke="#8b1a1a" stroke-width="1.3"/><line x1="637.9" y1="161.32" x2="641.4" y2="161.32" stroke="#8b1a1a" stroke-width="1.3"/><line x1="637.9" y1="131.08" x2="641.4" y2="131.08" stroke="#8b1a1a" stroke-width="1.3"/><line x1="637.9" y1="100.84" x2="641.4" y2="100.84" stroke="#8b1a1a" stroke-width="1.3"/><line x1="637.9" y1="70.60" x2="641.4" y2="70.60" stroke="#8b1a1a" stroke-width="1.3"/><line x1="637.9" y1="40.36" x2="641.4" y2="40.36" stroke="#8b1a1a" stroke-width="1.3"/><line x1="637.9" y1="10.12" x2="641.4" y2="10.12" stroke="#8b1a1a" stroke-width="1.3"/><line x1="392.00" y1="221.9" x2="392.00" y2="226.20000000000002" stroke="#000" stroke-width="1.3"/><line x1="410.89" y1="221.9" x2="410.89" y2="224.70000000000002" stroke="#000" stroke-width="1.3"/><line x1="429.79" y1="221.9" x2="429.79" y2="226.20000000000002" stroke="#000" stroke-width="1.3"/><line x1="448.68" y1="221.9" x2="448.68" y2="224.70000000000002" stroke="#000" stroke-width="1.3"/><line x1="467.57" y1="221.9" x2="467.57" y2="226.20000000000002" stroke="#000" stroke-width="1.3"/><line x1="486.46" y1="221.9" x2="486.46" y2="224.70000000000002" stroke="#000" stroke-width="1.3"/><line x1="505.36" y1="221.9" x2="505.36" y2="226.20000000000002" stroke="#000" stroke-width="1.3"/><line x1="524.25" y1="221.9" x2="524.25" y2="224.70000000000002" stroke="#000" stroke-width="1.3"/><line x1="543.14" y1="221.9" x2="543.14" y2="226.20000000000002" stroke="#000" stroke-width="1.3"/><line x1="562.03" y1="221.9" x2="562.03" y2="224.70000000000002" stroke="#000" stroke-width="1.3"/><line x1="580.92" y1="221.9" x2="580.92" y2="226.20000000000002" stroke="#000" stroke-width="1.3"/><line x1="599.82" y1="221.9" x2="599.82" y2="224.70000000000002" stroke="#000" stroke-width="1.3"/><line x1="618.71" y1="221.9" x2="618.71" y2="226.20000000000002" stroke="#000" stroke-width="1.3"/><text x="366.2" y="226.8" text-anchor="end" font-size="15" font-weight="bold" fill="#1c1cc4">0.0</text><text x="366.2" y="200.3" text-anchor="end" font-size="15" font-weight="bold" fill="#1c1cc4">0.1</text><text x="366.2" y="173.9" text-anchor="end" font-size="15" font-weight="bold" fill="#1c1cc4">0.2</text><text x="366.2" y="147.4" text-anchor="end" font-size="15" font-weight="bold" fill="#1c1cc4">0.3</text><text x="366.2" y="121.0" text-anchor="end" font-size="15" font-weight="bold" fill="#1c1cc4">0.4</text><text x="366.2" y="94.5" text-anchor="end" font-size="15" font-weight="bold" fill="#1c1cc4">0.5</text><text x="366.2" y="68.0" text-anchor="end" font-size="15" font-weight="bold" fill="#1c1cc4">0.6</text><text x="366.2" y="41.6" text-anchor="end" font-size="15" font-weight="bold" fill="#1c1cc4">0.7</text><text x="366.2" y="15.1" text-anchor="end" font-size="15" font-weight="bold" fill="#1c1cc4">0.8</text><text x="645" y="226.8" font-size="15" font-weight="bold" fill="#8b1a1a">2</text><text x="645" y="196.6" font-size="15" font-weight="bold" fill="#8b1a1a">4</text><text x="645" y="166.3" font-size="15" font-weight="bold" fill="#8b1a1a">6</text><text x="645" y="136.1" font-size="15" font-weight="bold" fill="#8b1a1a">8</text><text x="645" y="105.8" font-size="15" font-weight="bold" fill="#8b1a1a">10</text><text x="645" y="75.6" font-size="15" font-weight="bold" fill="#8b1a1a">12</text><text x="645" y="45.4" font-size="15" font-weight="bold" fill="#8b1a1a">14</text><text x="645" y="15.1" font-size="15" font-weight="bold" fill="#8b1a1a">16</text><text x="392.0" y="241" text-anchor="middle" font-size="15" font-weight="bold">0</text><text x="429.8" y="241" text-anchor="middle" font-size="15" font-weight="bold">5</text><text x="467.6" y="241" text-anchor="middle" font-size="15" font-weight="bold">10</text><text x="505.4" y="241" text-anchor="middle" font-size="15" font-weight="bold">15</text><text x="543.1" y="241" text-anchor="middle" font-size="15" font-weight="bold">20</text><text x="580.9" y="241" text-anchor="middle" font-size="15" font-weight="bold">25</text><text x="618.7" y="241" text-anchor="middle" font-size="15" font-weight="bold">30</text><text x="429.5" y="257.3" font-size="15" font-weight="bold">Ti</text><text x="442.8" y="257.3" font-size="6" font-weight="bold">3</text><text x="446.4" y="257.3" font-size="15" font-weight="bold">AlC</text><text x="472.0" y="257.3" font-size="6" font-weight="bold">2</text><text x="480.7" y="257.3" font-size="15" font-weight="bold">content (vol.%)</text><text transform="translate(337.2,115.1) rotate(-90)" text-anchor="middle" font-size="15" font-weight="bold" fill="#1c1cc4">Friction coefficient</text><g transform="translate(681.2,208) rotate(-90)" fill="#8b1a1a" color="#8b1a1a"><text x="-1.3" y="0" font-size="15" font-weight="bold">Wear loss</text><text x="83.0" y="0" font-size="15" font-weight="bold">10</text><text x="98.0" y="-7.5" font-size="9" font-weight="bold">-6</text><text x="104.5" y="0" font-size="15" font-weight="bold">m</text><text x="116.2" y="0" font-size="15" font-weight="bold">m</text><text x="128.8" y="-7.5" font-size="9" font-weight="bold">3</text><text x="134.0" y="0" font-size="15" font-weight="bold">N</text><text x="146.0" y="-7.5" font-size="9" font-weight="bold">-1</text><text x="153.4" y="0" font-size="15" font-weight="bold">m</text><text x="166.2" y="-7.5" font-size="9" font-weight="bold">-1</text><path d="M79.8,-11.6 A5.6,5.9 0 0 0 79.8,-0.2" fill="none" stroke="currentColor" stroke-width="1.3"/><path d="M176.4,-11.6 A5.6,5.9 0 0 1 176.4,-0.2" fill="none" stroke="currentColor" stroke-width="1.3"/></g><text x="322.4" y="17.2" font-size="16" font-weight="bold">(b)</text><polyline points="392.0,49.2 429.8,119.3 467.6,129.8 505.4,133.4 543.1,135.2 580.9,138.9 618.7,141.2" fill="none" stroke="#1a1aa0" stroke-width="1.5"/><circle cx="392.0" cy="49.2" r="4.1" fill="#fff" stroke="#3a3ad0" stroke-width="1"/><line x1="392.0" y1="45.1" x2="392.0" y2="41.1" stroke="#2e9a2e" stroke-width="1.3"/><line x1="389.6" y1="41.1" x2="394.4" y2="41.1" stroke="#2e9a2e" stroke-width="1.3"/><line x1="392.0" y1="53.3" x2="392.0" y2="57.3" stroke="#2e9a2e" stroke-width="1.3"/><line x1="389.6" y1="57.3" x2="394.4" y2="57.3" stroke="#2e9a2e" stroke-width="1.3"/><circle cx="429.8" cy="119.3" r="4.1" fill="#fff" stroke="#3a3ad0" stroke-width="1"/><line x1="429.8" y1="115.2" x2="429.8" y2="115.5" stroke="#2e9a2e" stroke-width="1.3"/><line x1="427.4" y1="115.5" x2="432.2" y2="115.5" stroke="#2e9a2e" stroke-width="1.3"/><line x1="429.8" y1="123.4" x2="429.8" y2="123.1" stroke="#2e9a2e" stroke-width="1.3"/><line x1="427.4" y1="123.1" x2="432.2" y2="123.1" stroke="#2e9a2e" stroke-width="1.3"/><circle cx="467.6" cy="129.8" r="4.1" fill="#fff" stroke="#3a3ad0" stroke-width="1"/><line x1="467.6" y1="125.7" x2="467.6" y2="125.5" stroke="#2e9a2e" stroke-width="1.3"/><line x1="465.2" y1="125.5" x2="470.0" y2="125.5" stroke="#2e9a2e" stroke-width="1.3"/><line x1="467.6" y1="133.9" x2="467.6" y2="134.1" stroke="#2e9a2e" stroke-width="1.3"/><line x1="465.2" y1="134.1" x2="470.0" y2="134.1" stroke="#2e9a2e" stroke-width="1.3"/><circle cx="505.4" cy="133.4" r="4.1" fill="#fff" stroke="#3a3ad0" stroke-width="1"/><line x1="505.4" y1="129.3" x2="505.4" y2="129.4" stroke="#2e9a2e" stroke-width="1.3"/><line x1="503.0" y1="129.4" x2="507.8" y2="129.4" stroke="#2e9a2e" stroke-width="1.3"/><line x1="505.4" y1="137.5" x2="505.4" y2="137.4" stroke="#2e9a2e" stroke-width="1.3"/><line x1="503.0" y1="137.4" x2="507.8" y2="137.4" stroke="#2e9a2e" stroke-width="1.3"/><circle cx="543.1" cy="135.2" r="4.1" fill="#fff" stroke="#3a3ad0" stroke-width="1"/><line x1="543.1" y1="131.1" x2="543.1" y2="133.6" stroke="#2e9a2e" stroke-width="1.3"/><line x1="540.7" y1="133.6" x2="545.5" y2="133.6" stroke="#2e9a2e" stroke-width="1.3"/><line x1="543.1" y1="139.3" x2="543.1" y2="136.8" stroke="#2e9a2e" stroke-width="1.3"/><line x1="540.7" y1="136.8" x2="545.5" y2="136.8" stroke="#2e9a2e" stroke-width="1.3"/><circle cx="580.9" cy="138.9" r="4.1" fill="#fff" stroke="#3a3ad0" stroke-width="1"/><line x1="580.9" y1="134.8" x2="580.9" y2="137.2" stroke="#2e9a2e" stroke-width="1.3"/><line x1="578.5" y1="137.2" x2="583.3" y2="137.2" stroke="#2e9a2e" stroke-width="1.3"/><line x1="580.9" y1="143.0" x2="580.9" y2="140.6" stroke="#2e9a2e" stroke-width="1.3"/><line x1="578.5" y1="140.6" x2="583.3" y2="140.6" stroke="#2e9a2e" stroke-width="1.3"/><circle cx="618.7" cy="141.2" r="4.1" fill="#fff" stroke="#3a3ad0" stroke-width="1"/><line x1="618.7" y1="137.1" x2="618.7" y2="139.7" stroke="#2e9a2e" stroke-width="1.3"/><line x1="616.3" y1="139.7" x2="621.1" y2="139.7" stroke="#2e9a2e" stroke-width="1.3"/><line x1="618.7" y1="145.3" x2="618.7" y2="142.7" stroke="#2e9a2e" stroke-width="1.3"/><line x1="616.3" y1="142.7" x2="621.1" y2="142.7" stroke="#2e9a2e" stroke-width="1.3"/><polyline points="392.0,56.1 429.8,132.0 467.6,144.3 505.4,158.9 543.1,167.2 580.9,179.2 618.7,187.4" fill="none" stroke="#8b1a1a" stroke-width="1.5"/><circle cx="392.0" cy="56.1" r="4.4" fill="#fff" stroke="#8b1a1a" stroke-width="1"/><line x1="392.0" y1="51.7" x2="392.0" y2="45.3" stroke="#4a4a4a" stroke-width="1.15"/><line x1="389.2" y1="45.3" x2="394.8" y2="45.3" stroke="#4a4a4a" stroke-width="1.15"/><line x1="392.0" y1="60.5" x2="392.0" y2="66.9" stroke="#4a4a4a" stroke-width="1.15"/><line x1="389.2" y1="66.9" x2="394.8" y2="66.9" stroke="#4a4a4a" stroke-width="1.15"/><circle cx="429.8" cy="132.0" r="4.4" fill="#fff" stroke="#8b1a1a" stroke-width="1"/><line x1="429.8" y1="127.6" x2="429.8" y2="128.9" stroke="#4a4a4a" stroke-width="1.15"/><line x1="427.0" y1="128.9" x2="432.6" y2="128.9" stroke="#4a4a4a" stroke-width="1.15"/><line x1="429.8" y1="136.4" x2="429.8" y2="135.1" stroke="#4a4a4a" stroke-width="1.15"/><line x1="427.0" y1="135.1" x2="432.6" y2="135.1" stroke="#4a4a4a" stroke-width="1.15"/><circle cx="467.6" cy="144.3" r="4.4" fill="#fff" stroke="#8b1a1a" stroke-width="1"/><line x1="467.6" y1="139.9" x2="467.6" y2="140.2" stroke="#4a4a4a" stroke-width="1.15"/><line x1="464.8" y1="140.2" x2="470.4" y2="140.2" stroke="#4a4a4a" stroke-width="1.15"/><line x1="467.6" y1="148.7" x2="467.6" y2="148.4" stroke="#4a4a4a" stroke-width="1.15"/><line x1="464.8" y1="148.4" x2="470.4" y2="148.4" stroke="#4a4a4a" stroke-width="1.15"/><circle cx="505.4" cy="158.9" r="4.4" fill="#fff" stroke="#8b1a1a" stroke-width="1"/><line x1="505.4" y1="154.5" x2="505.4" y2="155.4" stroke="#4a4a4a" stroke-width="1.15"/><line x1="502.6" y1="155.4" x2="508.2" y2="155.4" stroke="#4a4a4a" stroke-width="1.15"/><line x1="505.4" y1="163.3" x2="505.4" y2="162.4" stroke="#4a4a4a" stroke-width="1.15"/><line x1="502.6" y1="162.4" x2="508.2" y2="162.4" stroke="#4a4a4a" stroke-width="1.15"/><circle cx="543.1" cy="167.2" r="4.4" fill="#fff" stroke="#8b1a1a" stroke-width="1"/><line x1="543.1" y1="162.8" x2="543.1" y2="165.0" stroke="#4a4a4a" stroke-width="1.15"/><line x1="540.3" y1="165.0" x2="545.9" y2="165.0" stroke="#4a4a4a" stroke-width="1.15"/><line x1="543.1" y1="171.6" x2="543.1" y2="169.4" stroke="#4a4a4a" stroke-width="1.15"/><line x1="540.3" y1="169.4" x2="545.9" y2="169.4" stroke="#4a4a4a" stroke-width="1.15"/><circle cx="580.9" cy="179.2" r="4.4" fill="#fff" stroke="#8b1a1a" stroke-width="1"/><line x1="580.9" y1="174.8" x2="580.9" y2="175.2" stroke="#4a4a4a" stroke-width="1.15"/><line x1="578.1" y1="175.2" x2="583.7" y2="175.2" stroke="#4a4a4a" stroke-width="1.15"/><line x1="580.9" y1="183.6" x2="580.9" y2="183.2" stroke="#4a4a4a" stroke-width="1.15"/><line x1="578.1" y1="183.2" x2="583.7" y2="183.2" stroke="#4a4a4a" stroke-width="1.15"/><circle cx="618.7" cy="187.4" r="4.4" fill="#fff" stroke="#8b1a1a" stroke-width="1"/><line x1="618.7" y1="183.0" x2="618.7" y2="184.8" stroke="#4a4a4a" stroke-width="1.15"/><line x1="615.9" y1="184.8" x2="621.5" y2="184.8" stroke="#4a4a4a" stroke-width="1.15"/><line x1="618.7" y1="191.8" x2="618.7" y2="190.0" stroke="#4a4a4a" stroke-width="1.15"/><line x1="615.9" y1="190.0" x2="621.5" y2="190.0" stroke="#4a4a4a" stroke-width="1.15"/><line x1="502.4" y1="22.6" x2="530" y2="22.6" stroke="#1a1aa0" stroke-width="1.4"/><circle cx="516.2" cy="22.6" r="4.2" fill="#fff" stroke="#1a1aa0" stroke-width="1.1"/><line x1="502.4" y1="37.4" x2="530" y2="37.4" stroke="#8b1a1a" stroke-width="1.4"/><circle cx="516.2" cy="37.4" r="4.2" fill="#fff" stroke="#8b1a1a" stroke-width="1.1"/><text x="533.6" y="26.8" font-size="12" font-weight="bold">Friction coefficient</text><text x="533.6" y="41.4" font-size="12" font-weight="bold">Wear rate</text></svg></body></html>
